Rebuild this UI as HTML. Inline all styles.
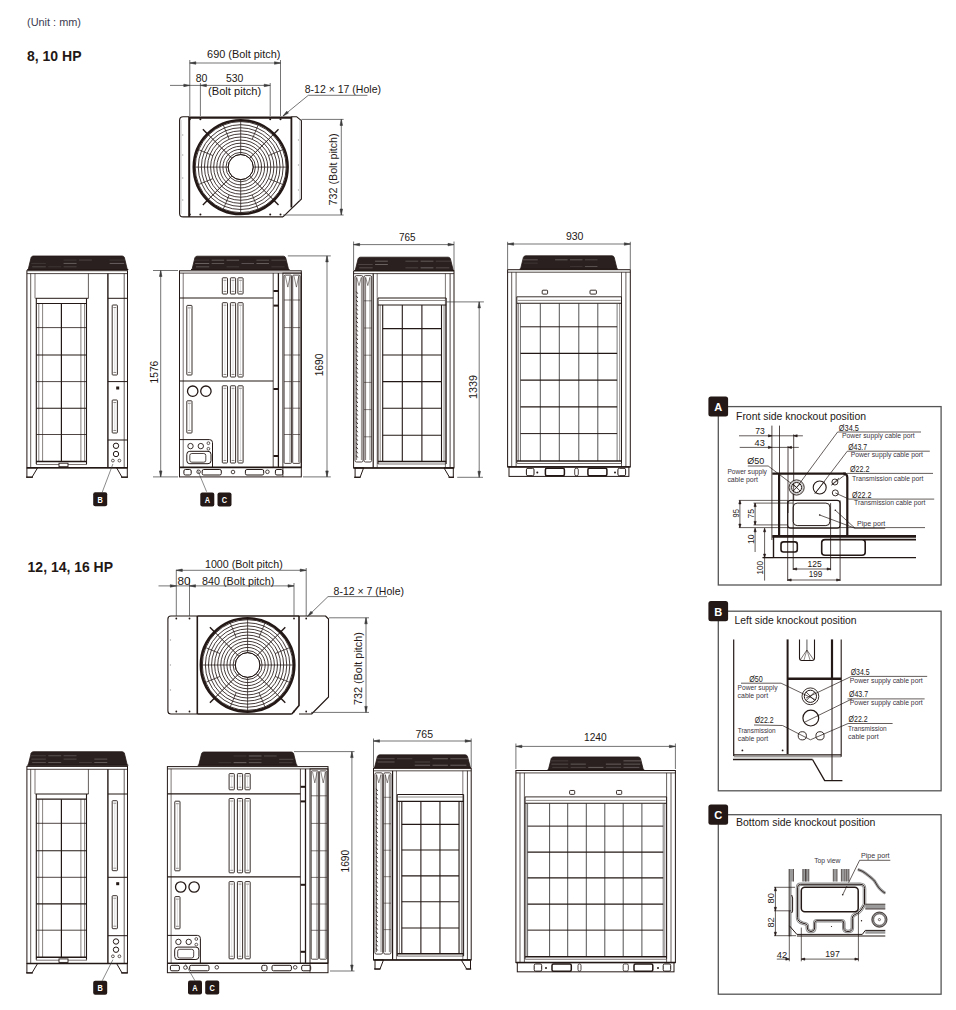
<!DOCTYPE html>
<html><head><meta charset="utf-8"><style>
html,body{margin:0;padding:0;background:#fff;}
body{width:956px;height:1010px;overflow:hidden;}
svg{display:block;font-family:"Liberation Sans",sans-serif;}
</style></head><body>
<svg width="956" height="1010" viewBox="0 0 956 1010">
<text x="27" y="26.2" font-size="10" text-anchor="start" fill="#3c3c50" font-weight="normal" textLength="54" lengthAdjust="spacingAndGlyphs">(Unit : mm)</text>
<text x="27" y="60.9" font-size="15" text-anchor="start" fill="#231815" font-weight="bold" textLength="54.5" lengthAdjust="spacingAndGlyphs">8, 10 HP</text>
<text x="27.6" y="572" font-size="15" text-anchor="start" fill="#231815" font-weight="bold" textLength="85.4" lengthAdjust="spacingAndGlyphs">12, 14, 16 HP</text>
<path d="M189.2,116.8 L183.1,116.8 Q179.6,116.8 179.6,120.3 L179.6,213.4 Q179.6,216.9 183.1,216.9 L283,216.9" stroke="#231815" stroke-width="1.1" fill="none" stroke-linejoin="round"/>
<line x1="189.2" y1="117.6" x2="291.9" y2="117.6" stroke="#231815" stroke-width="2.2" />
<line x1="189.2" y1="116.8" x2="189.2" y2="216.9" stroke="#231815" stroke-width="2" />
<line x1="291.4" y1="116.8" x2="291.4" y2="207.5" stroke="#231815" stroke-width="1.8" />
<polyline points="291.4,116.8 296.8,116.8 301.4,120.7 301.4,199 283,216.9" stroke="#231815" stroke-width="1.1" fill="none" stroke-linejoin="round" />
<circle cx="240.7" cy="167.1" r="14.7" stroke="#231815" stroke-width="0.85" fill="none"/>
<circle cx="240.7" cy="167.1" r="17.78" stroke="#231815" stroke-width="0.85" fill="none"/>
<circle cx="240.7" cy="167.1" r="20.86" stroke="#231815" stroke-width="0.85" fill="none"/>
<circle cx="240.7" cy="167.1" r="23.94" stroke="#231815" stroke-width="0.85" fill="none"/>
<circle cx="240.7" cy="167.1" r="27.02" stroke="#231815" stroke-width="0.85" fill="none"/>
<circle cx="240.7" cy="167.1" r="30.1" stroke="#231815" stroke-width="0.85" fill="none"/>
<circle cx="240.7" cy="167.1" r="33.18" stroke="#231815" stroke-width="0.85" fill="none"/>
<circle cx="240.7" cy="167.1" r="36.26" stroke="#231815" stroke-width="0.85" fill="none"/>
<circle cx="240.7" cy="167.1" r="39.34" stroke="#231815" stroke-width="0.85" fill="none"/>
<circle cx="240.7" cy="167.1" r="42.42" stroke="#231815" stroke-width="0.85" fill="none"/>
<circle cx="240.7" cy="167.1" r="45.5" stroke="#231815" stroke-width="0.85" fill="none"/>
<circle cx="240.7" cy="167.1" r="12.5" stroke="#231815" stroke-width="1" fill="none"/>
<circle cx="240.7" cy="167.1" r="46.9" stroke="#231815" stroke-width="2.6" fill="none"/>
<line x1="253.2" y1="167.1" x2="287.2" y2="167.1" stroke="#231815" stroke-width="0.75" />
<line x1="268.42" y1="178.58" x2="283.66" y2="184.89" stroke="#231815" stroke-width="0.75" />
<line x1="249.54" y1="175.94" x2="273.58" y2="199.98" stroke="#231815" stroke-width="1" />
<line x1="252.18" y1="194.82" x2="258.49" y2="210.06" stroke="#231815" stroke-width="0.75" />
<line x1="240.7" y1="179.6" x2="240.7" y2="213.6" stroke="#231815" stroke-width="0.75" />
<line x1="229.22" y1="194.82" x2="222.91" y2="210.06" stroke="#231815" stroke-width="0.75" />
<line x1="231.86" y1="175.94" x2="207.82" y2="199.98" stroke="#231815" stroke-width="1" />
<line x1="212.98" y1="178.58" x2="197.74" y2="184.89" stroke="#231815" stroke-width="0.75" />
<line x1="228.2" y1="167.1" x2="194.2" y2="167.1" stroke="#231815" stroke-width="0.75" />
<line x1="212.98" y1="155.62" x2="197.74" y2="149.31" stroke="#231815" stroke-width="0.75" />
<line x1="231.86" y1="158.26" x2="207.82" y2="134.22" stroke="#231815" stroke-width="1" />
<line x1="229.22" y1="139.38" x2="222.91" y2="124.14" stroke="#231815" stroke-width="0.75" />
<line x1="240.7" y1="154.6" x2="240.7" y2="120.6" stroke="#231815" stroke-width="0.75" />
<line x1="252.18" y1="139.38" x2="258.49" y2="124.14" stroke="#231815" stroke-width="0.75" />
<line x1="249.54" y1="158.26" x2="273.58" y2="134.22" stroke="#231815" stroke-width="1" />
<line x1="268.42" y1="155.62" x2="283.66" y2="149.31" stroke="#231815" stroke-width="0.75" />
<circle cx="240.7" cy="167.1" r="12" stroke="none" stroke-width="0" fill="#fff"/>
<circle cx="240.7" cy="167.1" r="12.5" stroke="#231815" stroke-width="1" fill="none"/>
<line x1="272.87" y1="199.27" x2="278.53" y2="204.93" stroke="#231815" stroke-width="1.4" />
<line x1="208.53" y1="199.27" x2="202.87" y2="204.93" stroke="#231815" stroke-width="1.4" />
<line x1="208.53" y1="134.93" x2="202.87" y2="129.27" stroke="#231815" stroke-width="1.4" />
<line x1="272.87" y1="134.93" x2="278.53" y2="129.27" stroke="#231815" stroke-width="1.4" />
<line x1="181.2" y1="119.8" x2="181.2" y2="213.9" stroke="#aaa" stroke-width="0.5" />
<line x1="299.8" y1="119.8" x2="299.8" y2="200.9" stroke="#aaa" stroke-width="0.5" />
<circle cx="182.8" cy="135" r="0.35" stroke="#888" stroke-width="0.6" fill="none"/>
<circle cx="182.8" cy="155" r="0.35" stroke="#888" stroke-width="0.6" fill="none"/>
<circle cx="182.8" cy="178" r="0.35" stroke="#888" stroke-width="0.6" fill="none"/>
<circle cx="182.8" cy="200" r="0.35" stroke="#888" stroke-width="0.6" fill="none"/>
<circle cx="298.4" cy="140" r="0.35" stroke="#888" stroke-width="0.6" fill="none"/>
<circle cx="298.4" cy="165" r="0.35" stroke="#888" stroke-width="0.6" fill="none"/>
<circle cx="298.4" cy="190" r="0.35" stroke="#888" stroke-width="0.6" fill="none"/>
<circle cx="200.4" cy="119.3" r="1" stroke="none" stroke-width="0" fill="#231815"/>
<circle cx="200.4" cy="214.4" r="1" stroke="none" stroke-width="0" fill="#231815"/>
<circle cx="270.2" cy="119.3" r="1" stroke="none" stroke-width="0" fill="#231815"/>
<circle cx="270.2" cy="214.4" r="1" stroke="none" stroke-width="0" fill="#231815"/>
<circle cx="189.8" cy="119.3" r="1" stroke="none" stroke-width="0" fill="#231815"/>
<circle cx="189.8" cy="214.4" r="1" stroke="none" stroke-width="0" fill="#231815"/>
<circle cx="280.5" cy="119.3" r="1" stroke="none" stroke-width="0" fill="#231815"/>
<circle cx="280.5" cy="214.4" r="1" stroke="none" stroke-width="0" fill="#231815"/>
<line x1="189.8" y1="60" x2="189.8" y2="116" stroke="#3a3a3a" stroke-width="0.7" />
<line x1="280.5" y1="60" x2="280.5" y2="116" stroke="#3a3a3a" stroke-width="0.7" />
<line x1="200.4" y1="83" x2="200.4" y2="116" stroke="#3a3a3a" stroke-width="0.7" />
<line x1="270.2" y1="83" x2="270.2" y2="116" stroke="#3a3a3a" stroke-width="0.7" />
<line x1="189.8" y1="63" x2="280.5" y2="63" stroke="#3a3a3a" stroke-width="0.7" />
<polygon points="195.8,61.75 189.8,63 195.8,64.25" stroke="#3a3a3a" stroke-width="0.6" fill="#3a3a3a" stroke-linejoin="round" />
<polygon points="274.5,64.25 280.5,63 274.5,61.75" stroke="#3a3a3a" stroke-width="0.6" fill="#3a3a3a" stroke-linejoin="round" />
<line x1="170" y1="85.4" x2="270.2" y2="85.4" stroke="#3a3a3a" stroke-width="0.7" />
<polygon points="183.8,86.65 189.8,85.4 183.8,84.15" stroke="#3a3a3a" stroke-width="0.6" fill="#3a3a3a" stroke-linejoin="round" />
<polygon points="206.4,84.15 200.4,85.4 206.4,86.65" stroke="#3a3a3a" stroke-width="0.6" fill="#3a3a3a" stroke-linejoin="round" />
<polygon points="264.2,86.65 270.2,85.4 264.2,84.15" stroke="#3a3a3a" stroke-width="0.6" fill="#3a3a3a" stroke-linejoin="round" />
<text x="207.1" y="57.7" font-size="10.3" text-anchor="start" fill="#231815" font-weight="normal" textLength="73.4" lengthAdjust="spacingAndGlyphs">690 (Bolt pitch)</text>
<text x="195.7" y="81.8" font-size="10.3" text-anchor="start" fill="#231815" font-weight="normal" textLength="11.7" lengthAdjust="spacingAndGlyphs">80</text>
<text x="225.9" y="81.7" font-size="10.3" text-anchor="start" fill="#231815" font-weight="normal" textLength="17.4" lengthAdjust="spacingAndGlyphs">530</text>
<text x="208" y="94.9" font-size="10.3" text-anchor="start" fill="#231815" font-weight="normal" textLength="53.2" lengthAdjust="spacingAndGlyphs">(Bolt pitch)</text>
<text x="304.7" y="92.8" font-size="10.3" text-anchor="start" fill="#231815" font-weight="normal" textLength="76.3" lengthAdjust="spacingAndGlyphs">8-12 × 17 (Hole)</text>
<polyline points="367.4,95.3 308.3,95.3 283,116" stroke="#3a3a3a" stroke-width="0.7" fill="none" stroke-linejoin="round" />
<polygon points="286.81,111.2 283,116 288.41,113.12" stroke="#3a3a3a" stroke-width="0.6" fill="#3a3a3a" stroke-linejoin="round" />
<line x1="301.4" y1="119.4" x2="343.6" y2="119.4" stroke="#3a3a3a" stroke-width="0.7" />
<line x1="283" y1="215" x2="343.6" y2="215" stroke="#3a3a3a" stroke-width="0.7" />
<line x1="341.3" y1="119.4" x2="341.3" y2="215" stroke="#3a3a3a" stroke-width="0.7" />
<polygon points="342.55,125.4 341.3,119.4 340.05,125.4" stroke="#3a3a3a" stroke-width="0.6" fill="#3a3a3a" stroke-linejoin="round" />
<polygon points="340.05,209 341.3,215 342.55,209" stroke="#3a3a3a" stroke-width="0.6" fill="#3a3a3a" stroke-linejoin="round" />
<text x="337.3" y="169.4" font-size="10.5" text-anchor="middle" fill="#231815" font-weight="normal" textLength="72.1" lengthAdjust="spacingAndGlyphs" transform="rotate(-90 337.3 169.4)">732 (Bolt pitch)</text>
<path d="M197.3,616 L170.9,616 Q167.9,616 167.9,619 L167.9,711 Q167.9,714 170.9,714 L197.3,714" stroke="#231815" stroke-width="1.1" fill="none" stroke-linejoin="round"/>
<line x1="197.3" y1="616" x2="299" y2="616" stroke="#231815" stroke-width="1.6" />
<line x1="197.3" y1="714" x2="291.8" y2="714" stroke="#231815" stroke-width="1.6" />
<line x1="197.3" y1="616" x2="197.3" y2="714" stroke="#231815" stroke-width="1.6" />
<polyline points="299,616 299,705.4 291.8,714" stroke="#231815" stroke-width="1.6" fill="none" stroke-linejoin="round" />
<polyline points="299,616 325.5,616 328.5,619 328.5,697 311.6,714 299,714" stroke="#231815" stroke-width="1.1" fill="none" stroke-linejoin="round" />
<circle cx="247.6" cy="665" r="14.5" stroke="#231815" stroke-width="0.85" fill="none"/>
<circle cx="247.6" cy="665" r="17.58" stroke="#231815" stroke-width="0.85" fill="none"/>
<circle cx="247.6" cy="665" r="20.66" stroke="#231815" stroke-width="0.85" fill="none"/>
<circle cx="247.6" cy="665" r="23.74" stroke="#231815" stroke-width="0.85" fill="none"/>
<circle cx="247.6" cy="665" r="26.82" stroke="#231815" stroke-width="0.85" fill="none"/>
<circle cx="247.6" cy="665" r="29.9" stroke="#231815" stroke-width="0.85" fill="none"/>
<circle cx="247.6" cy="665" r="32.98" stroke="#231815" stroke-width="0.85" fill="none"/>
<circle cx="247.6" cy="665" r="36.06" stroke="#231815" stroke-width="0.85" fill="none"/>
<circle cx="247.6" cy="665" r="39.14" stroke="#231815" stroke-width="0.85" fill="none"/>
<circle cx="247.6" cy="665" r="42.22" stroke="#231815" stroke-width="0.85" fill="none"/>
<circle cx="247.6" cy="665" r="45.3" stroke="#231815" stroke-width="0.85" fill="none"/>
<circle cx="247.6" cy="665" r="12.3" stroke="#231815" stroke-width="1" fill="none"/>
<circle cx="247.6" cy="665" r="46.7" stroke="#231815" stroke-width="2.6" fill="none"/>
<line x1="259.9" y1="665" x2="293.9" y2="665" stroke="#231815" stroke-width="0.75" />
<line x1="275.13" y1="676.4" x2="290.38" y2="682.72" stroke="#231815" stroke-width="0.75" />
<line x1="256.3" y1="673.7" x2="280.34" y2="697.74" stroke="#231815" stroke-width="1" />
<line x1="259" y1="692.53" x2="265.32" y2="707.78" stroke="#231815" stroke-width="0.75" />
<line x1="247.6" y1="677.3" x2="247.6" y2="711.3" stroke="#231815" stroke-width="0.75" />
<line x1="236.2" y1="692.53" x2="229.88" y2="707.78" stroke="#231815" stroke-width="0.75" />
<line x1="238.9" y1="673.7" x2="214.86" y2="697.74" stroke="#231815" stroke-width="1" />
<line x1="220.07" y1="676.4" x2="204.82" y2="682.72" stroke="#231815" stroke-width="0.75" />
<line x1="235.3" y1="665" x2="201.3" y2="665" stroke="#231815" stroke-width="0.75" />
<line x1="220.07" y1="653.6" x2="204.82" y2="647.28" stroke="#231815" stroke-width="0.75" />
<line x1="238.9" y1="656.3" x2="214.86" y2="632.26" stroke="#231815" stroke-width="1" />
<line x1="236.2" y1="637.47" x2="229.88" y2="622.22" stroke="#231815" stroke-width="0.75" />
<line x1="247.6" y1="652.7" x2="247.6" y2="618.7" stroke="#231815" stroke-width="0.75" />
<line x1="259" y1="637.47" x2="265.32" y2="622.22" stroke="#231815" stroke-width="0.75" />
<line x1="256.3" y1="656.3" x2="280.34" y2="632.26" stroke="#231815" stroke-width="1" />
<line x1="275.13" y1="653.6" x2="290.38" y2="647.28" stroke="#231815" stroke-width="0.75" />
<circle cx="247.6" cy="665" r="11.8" stroke="none" stroke-width="0" fill="#fff"/>
<circle cx="247.6" cy="665" r="12.3" stroke="#231815" stroke-width="1" fill="none"/>
<line x1="279.63" y1="697.03" x2="285.29" y2="702.69" stroke="#231815" stroke-width="1.4" />
<line x1="215.57" y1="697.03" x2="209.91" y2="702.69" stroke="#231815" stroke-width="1.4" />
<line x1="215.57" y1="632.97" x2="209.91" y2="627.31" stroke="#231815" stroke-width="1.4" />
<line x1="279.63" y1="632.97" x2="285.29" y2="627.31" stroke="#231815" stroke-width="1.4" />
<circle cx="170.4" cy="640" r="0.35" stroke="#888" stroke-width="0.6" fill="none"/>
<circle cx="170.4" cy="665" r="0.35" stroke="#888" stroke-width="0.6" fill="none"/>
<circle cx="170.4" cy="690" r="0.35" stroke="#888" stroke-width="0.6" fill="none"/>
<circle cx="176.3" cy="618.5" r="0.9" stroke="none" stroke-width="0" fill="#231815"/>
<circle cx="176.3" cy="711.5" r="0.9" stroke="none" stroke-width="0" fill="#231815"/>
<circle cx="189.5" cy="618.5" r="0.9" stroke="none" stroke-width="0" fill="#231815"/>
<circle cx="189.5" cy="711.5" r="0.9" stroke="none" stroke-width="0" fill="#231815"/>
<circle cx="294" cy="618.5" r="0.9" stroke="none" stroke-width="0" fill="#231815"/>
<circle cx="294" cy="711.5" r="0.9" stroke="none" stroke-width="0" fill="#231815"/>
<circle cx="306.2" cy="618.5" r="0.9" stroke="none" stroke-width="0" fill="#231815"/>
<circle cx="306.2" cy="711.5" r="0.9" stroke="none" stroke-width="0" fill="#231815"/>
<line x1="176.3" y1="569.8" x2="176.3" y2="616" stroke="#3a3a3a" stroke-width="0.7" />
<line x1="306.2" y1="568" x2="306.2" y2="616" stroke="#3a3a3a" stroke-width="0.7" />
<line x1="189.5" y1="578" x2="189.5" y2="616" stroke="#3a3a3a" stroke-width="0.7" />
<line x1="294" y1="583" x2="294" y2="616" stroke="#3a3a3a" stroke-width="0.7" />
<line x1="176.3" y1="570.3" x2="306.2" y2="570.3" stroke="#3a3a3a" stroke-width="0.7" />
<polygon points="182.3,569.05 176.3,570.3 182.3,571.55" stroke="#3a3a3a" stroke-width="0.6" fill="#3a3a3a" stroke-linejoin="round" />
<polygon points="300.2,571.55 306.2,570.3 300.2,569.05" stroke="#3a3a3a" stroke-width="0.6" fill="#3a3a3a" stroke-linejoin="round" />
<line x1="158.5" y1="585.9" x2="294" y2="585.9" stroke="#3a3a3a" stroke-width="0.7" />
<polygon points="170.3,587.15 176.3,585.9 170.3,584.65" stroke="#3a3a3a" stroke-width="0.6" fill="#3a3a3a" stroke-linejoin="round" />
<polygon points="195.5,584.65 189.5,585.9 195.5,587.15" stroke="#3a3a3a" stroke-width="0.6" fill="#3a3a3a" stroke-linejoin="round" />
<polygon points="288,587.15 294,585.9 288,584.65" stroke="#3a3a3a" stroke-width="0.6" fill="#3a3a3a" stroke-linejoin="round" />
<text x="205" y="568.4" font-size="10.3" text-anchor="start" fill="#231815" font-weight="normal" textLength="77.7" lengthAdjust="spacingAndGlyphs">1000 (Bolt pitch)</text>
<text x="177.4" y="584.5" font-size="10.3" text-anchor="start" fill="#231815" font-weight="normal" textLength="13" lengthAdjust="spacingAndGlyphs">80</text>
<text x="202" y="584.5" font-size="10.3" text-anchor="start" fill="#231815" font-weight="normal" textLength="72.3" lengthAdjust="spacingAndGlyphs">840 (Bolt pitch)</text>
<text x="333.6" y="594.6" font-size="10.3" text-anchor="start" fill="#231815" font-weight="normal" textLength="70.4" lengthAdjust="spacingAndGlyphs">8-12 × 7 (Hole)</text>
<polyline points="387,596.6 328,596.6 307.6,616.4" stroke="#3a3a3a" stroke-width="0.7" fill="none" stroke-linejoin="round" />
<polygon points="310.96,611.27 307.6,616.4 312.73,613.04" stroke="#3a3a3a" stroke-width="0.6" fill="#3a3a3a" stroke-linejoin="round" />
<line x1="329" y1="617.8" x2="369" y2="617.8" stroke="#3a3a3a" stroke-width="0.7" />
<line x1="311" y1="712.4" x2="369" y2="712.4" stroke="#3a3a3a" stroke-width="0.7" />
<line x1="366" y1="617.8" x2="366" y2="712.4" stroke="#3a3a3a" stroke-width="0.7" />
<polygon points="367.25,623.8 366,617.8 364.75,623.8" stroke="#3a3a3a" stroke-width="0.6" fill="#3a3a3a" stroke-linejoin="round" />
<polygon points="364.75,706.4 366,712.4 367.25,706.4" stroke="#3a3a3a" stroke-width="0.6" fill="#3a3a3a" stroke-linejoin="round" />
<text x="361.7" y="668.6" font-size="10.5" text-anchor="middle" fill="#231815" font-weight="normal" textLength="73" lengthAdjust="spacingAndGlyphs" transform="rotate(-90 361.7 668.6)">732 (Bolt pitch)</text>
<path d="M28.2,269.5 L31.1,257.6 Q31.7,256 33.3,256 L122.2,256 Q123.8,256 124.4,257.6 L127.3,269.5 Z" stroke="#231815" stroke-width="0.8" fill="#2a2020" stroke-linejoin="round"/>
<line x1="63.6" y1="260.05" x2="76.55" y2="260.05" stroke="#b0a8a8" stroke-width="0.7" stroke-opacity="0.24"/>
<line x1="78.95" y1="260.05" x2="91.9" y2="260.05" stroke="#b0a8a8" stroke-width="0.7" stroke-opacity="0.38"/>
<line x1="109.65" y1="260.05" x2="125.05" y2="260.05" stroke="#b0a8a8" stroke-width="0.7" stroke-opacity="0.22"/>
<line x1="31.32" y1="263.43" x2="45.85" y2="263.43" stroke="#b0a8a8" stroke-width="0.7" stroke-opacity="0.23"/>
<line x1="63.6" y1="263.43" x2="76.55" y2="263.43" stroke="#b0a8a8" stroke-width="0.7" stroke-opacity="0.61"/>
<line x1="109.65" y1="263.43" x2="124.17" y2="263.43" stroke="#b0a8a8" stroke-width="0.7" stroke-opacity="0.67"/>
<line x1="32.2" y1="266.8" x2="45.85" y2="266.8" stroke="#b0a8a8" stroke-width="0.7" stroke-opacity="0.40"/>
<line x1="48.25" y1="266.8" x2="61.2" y2="266.8" stroke="#b0a8a8" stroke-width="0.7" stroke-opacity="0.22"/>
<line x1="63.6" y1="266.8" x2="76.55" y2="266.8" stroke="#b0a8a8" stroke-width="0.7" stroke-opacity="0.34"/>
<line x1="27.2" y1="269.5" x2="128.3" y2="269.5" stroke="#231815" stroke-width="1" />
<rect x="26.9" y="270.7" width="100.6" height="197.1" rx="0" stroke="#231815" stroke-width="1" fill="none"/>
<line x1="26.9" y1="273.6" x2="127.5" y2="273.6" stroke="#231815" stroke-width="0.8" />
<line x1="30.7" y1="273.6" x2="30.7" y2="467.8" stroke="#231815" stroke-width="0.7" />
<line x1="35" y1="273.6" x2="35" y2="298.3" stroke="#231815" stroke-width="0.6" />
<line x1="88.4" y1="273.6" x2="88.4" y2="298.3" stroke="#231815" stroke-width="0.7" />
<line x1="124.2" y1="273.6" x2="124.2" y2="467.8" stroke="#231815" stroke-width="0.7" />
<line x1="107.9" y1="273.6" x2="107.9" y2="467.8" stroke="#231815" stroke-width="1.4" />
<line x1="35.5" y1="298.3" x2="88.4" y2="298.3" stroke="#231815" stroke-width="1" />
<line x1="36.5" y1="303.5" x2="87" y2="303.5" stroke="#231815" stroke-width="1.2" />
<line x1="36.3" y1="298.3" x2="36.3" y2="464" stroke="#231815" stroke-width="1.1" />
<line x1="86.5" y1="298.3" x2="86.5" y2="464" stroke="#231815" stroke-width="1.1" />
<line x1="38.8" y1="303.5" x2="38.8" y2="461.5" stroke="#231815" stroke-width="0.55" />
<line x1="42.6" y1="303.5" x2="42.6" y2="461.5" stroke="#231815" stroke-width="0.55" />
<line x1="80.9" y1="303.5" x2="80.9" y2="461.5" stroke="#231815" stroke-width="0.55" />
<line x1="84.6" y1="303.5" x2="84.6" y2="461.5" stroke="#231815" stroke-width="0.55" />
<line x1="61.4" y1="303.5" x2="61.4" y2="461.5" stroke="#231815" stroke-width="1.2" />
<line x1="36.3" y1="327.6" x2="86.5" y2="327.6" stroke="#231815" stroke-width="0.8" />
<line x1="36.3" y1="355" x2="86.5" y2="355" stroke="#231815" stroke-width="1.1" />
<line x1="36.3" y1="381.6" x2="86.5" y2="381.6" stroke="#231815" stroke-width="0.8" />
<line x1="36.3" y1="408.2" x2="86.5" y2="408.2" stroke="#231815" stroke-width="1.1" />
<line x1="36.3" y1="434.5" x2="86.5" y2="434.5" stroke="#231815" stroke-width="0.8" />
<line x1="36" y1="461.5" x2="87" y2="461.5" stroke="#231815" stroke-width="1.5" />
<line x1="36" y1="464.5" x2="87" y2="464.5" stroke="#231815" stroke-width="0.6" />
<rect x="59" y="463.2" width="9" height="3.5" rx="0" fill="#fff"/>
<rect x="59" y="463.2" width="9" height="3.5" rx="0" stroke="#231815" stroke-width="0.9" fill="none"/>
<line x1="26.9" y1="467.8" x2="127.5" y2="467.8" stroke="#231815" stroke-width="1.6" />
<line x1="107.9" y1="298.3" x2="127.5" y2="298.3" stroke="#231815" stroke-width="1" />
<line x1="107.9" y1="381.6" x2="127.5" y2="381.6" stroke="#231815" stroke-width="1" />
<line x1="107.9" y1="440" x2="127.5" y2="440" stroke="#231815" stroke-width="1" />
<rect x="112.2" y="305" width="5.2" height="70" rx="0.7" stroke="#231815" stroke-width="0.9" fill="none"/>
<line x1="113.4" y1="307.5" x2="116.2" y2="307.5" stroke="#231815" stroke-width="0.5" />
<line x1="113.4" y1="372.5" x2="116.2" y2="372.5" stroke="#231815" stroke-width="0.5" />
<line x1="114.8" y1="308" x2="114.8" y2="372" stroke="#999" stroke-width="0.35" />
<rect x="112.2" y="400" width="5.2" height="33" rx="0.7" stroke="#231815" stroke-width="0.9" fill="none"/>
<line x1="113.4" y1="402.5" x2="116.2" y2="402.5" stroke="#231815" stroke-width="0.5" />
<line x1="113.4" y1="430.5" x2="116.2" y2="430.5" stroke="#231815" stroke-width="0.5" />
<line x1="114.8" y1="403" x2="114.8" y2="430" stroke="#999" stroke-width="0.35" />
<rect x="116.2" y="386.5" width="3" height="3" rx="0" fill="#231815"/>
<circle cx="116" cy="445.8" r="2.7" stroke="#231815" stroke-width="1" fill="none"/>
<circle cx="116" cy="454" r="2.7" stroke="#231815" stroke-width="1" fill="none"/>
<circle cx="112.9" cy="460.6" r="1.4" stroke="#231815" stroke-width="0.7" fill="none"/>
<circle cx="119.4" cy="460.6" r="1.4" stroke="#231815" stroke-width="0.7" fill="none"/>
<polygon points="26.9,467.8 37.6,467.8 32,477.2 26.9,477.2" stroke="#231815" stroke-width="1" fill="none" stroke-linejoin="round" />
<line x1="26" y1="477.2" x2="33" y2="477.2" stroke="#231815" stroke-width="1.2" />
<polygon points="116.6,467.8 127.3,467.8 127.3,477.2 122,477.2" stroke="#231815" stroke-width="1" fill="none" stroke-linejoin="round" />
<line x1="121" y1="477.2" x2="128" y2="477.2" stroke="#231815" stroke-width="1.2" />
<line x1="112.9" y1="464" x2="102.2" y2="492.3" stroke="#3a3a3a" stroke-width="0.6" />
<rect x="93.2" y="492.3" width="14" height="14" rx="2" fill="#231815"/>
<text x="100.2" y="502.7" font-size="9" text-anchor="middle" fill="#ffffff" font-weight="bold" textLength="5.3" lengthAdjust="spacingAndGlyphs">B</text>
<path d="M28.2,765.2 L31.1,753.3 Q31.7,751.7 33.3,751.7 L122.2,751.7 Q123.8,751.7 124.4,753.3 L127.3,765.2 Z" stroke="#231815" stroke-width="0.8" fill="#2a2020" stroke-linejoin="round"/>
<line x1="30.45" y1="755.75" x2="45.85" y2="755.75" stroke="#b0a8a8" stroke-width="0.7" stroke-opacity="0.29"/>
<line x1="48.25" y1="755.75" x2="61.2" y2="755.75" stroke="#b0a8a8" stroke-width="0.7" stroke-opacity="0.52"/>
<line x1="63.6" y1="755.75" x2="76.55" y2="755.75" stroke="#b0a8a8" stroke-width="0.7" stroke-opacity="0.47"/>
<line x1="31.32" y1="759.12" x2="45.85" y2="759.12" stroke="#b0a8a8" stroke-width="0.7" stroke-opacity="0.41"/>
<line x1="63.6" y1="759.12" x2="76.55" y2="759.12" stroke="#b0a8a8" stroke-width="0.7" stroke-opacity="0.43"/>
<line x1="94.3" y1="759.12" x2="107.25" y2="759.12" stroke="#b0a8a8" stroke-width="0.7" stroke-opacity="0.55"/>
<line x1="32.2" y1="762.5" x2="45.85" y2="762.5" stroke="#b0a8a8" stroke-width="0.7" stroke-opacity="0.46"/>
<line x1="48.25" y1="762.5" x2="61.2" y2="762.5" stroke="#b0a8a8" stroke-width="0.7" stroke-opacity="0.56"/>
<line x1="78.95" y1="762.5" x2="91.9" y2="762.5" stroke="#b0a8a8" stroke-width="0.7" stroke-opacity="0.26"/>
<line x1="94.3" y1="762.5" x2="107.25" y2="762.5" stroke="#b0a8a8" stroke-width="0.7" stroke-opacity="0.58"/>
<line x1="27.2" y1="765.2" x2="128.3" y2="765.2" stroke="#231815" stroke-width="1" />
<rect x="26.9" y="766.4" width="100.6" height="197.1" rx="0" stroke="#231815" stroke-width="1" fill="none"/>
<line x1="26.9" y1="769.3" x2="127.5" y2="769.3" stroke="#231815" stroke-width="0.8" />
<line x1="30.7" y1="769.3" x2="30.7" y2="963.5" stroke="#231815" stroke-width="0.7" />
<line x1="35" y1="769.3" x2="35" y2="794" stroke="#231815" stroke-width="0.6" />
<line x1="88.4" y1="769.3" x2="88.4" y2="794" stroke="#231815" stroke-width="0.7" />
<line x1="124.2" y1="769.3" x2="124.2" y2="963.5" stroke="#231815" stroke-width="0.7" />
<line x1="107.9" y1="769.3" x2="107.9" y2="963.5" stroke="#231815" stroke-width="1.4" />
<line x1="35.5" y1="794" x2="88.4" y2="794" stroke="#231815" stroke-width="1" />
<line x1="36.5" y1="799.2" x2="87" y2="799.2" stroke="#231815" stroke-width="1.2" />
<line x1="36.3" y1="794" x2="36.3" y2="959.7" stroke="#231815" stroke-width="1.1" />
<line x1="86.5" y1="794" x2="86.5" y2="959.7" stroke="#231815" stroke-width="1.1" />
<line x1="38.8" y1="799.2" x2="38.8" y2="957.2" stroke="#231815" stroke-width="0.55" />
<line x1="42.6" y1="799.2" x2="42.6" y2="957.2" stroke="#231815" stroke-width="0.55" />
<line x1="80.9" y1="799.2" x2="80.9" y2="957.2" stroke="#231815" stroke-width="0.55" />
<line x1="84.6" y1="799.2" x2="84.6" y2="957.2" stroke="#231815" stroke-width="0.55" />
<line x1="61.4" y1="799.2" x2="61.4" y2="957.2" stroke="#231815" stroke-width="1.2" />
<line x1="36.3" y1="823.3" x2="86.5" y2="823.3" stroke="#231815" stroke-width="0.8" />
<line x1="36.3" y1="850.7" x2="86.5" y2="850.7" stroke="#231815" stroke-width="1.1" />
<line x1="36.3" y1="877.3" x2="86.5" y2="877.3" stroke="#231815" stroke-width="0.8" />
<line x1="36.3" y1="903.9" x2="86.5" y2="903.9" stroke="#231815" stroke-width="1.1" />
<line x1="36.3" y1="930.2" x2="86.5" y2="930.2" stroke="#231815" stroke-width="0.8" />
<line x1="36" y1="957.2" x2="87" y2="957.2" stroke="#231815" stroke-width="1.5" />
<line x1="36" y1="960.2" x2="87" y2="960.2" stroke="#231815" stroke-width="0.6" />
<rect x="59" y="958.9" width="9" height="3.5" rx="0" fill="#fff"/>
<rect x="59" y="958.9" width="9" height="3.5" rx="0" stroke="#231815" stroke-width="0.9" fill="none"/>
<line x1="26.9" y1="963.5" x2="127.5" y2="963.5" stroke="#231815" stroke-width="1.6" />
<line x1="107.9" y1="794" x2="127.5" y2="794" stroke="#231815" stroke-width="1" />
<line x1="107.9" y1="877.3" x2="127.5" y2="877.3" stroke="#231815" stroke-width="1" />
<line x1="107.9" y1="935.7" x2="127.5" y2="935.7" stroke="#231815" stroke-width="1" />
<rect x="112.2" y="800.7" width="5.2" height="70" rx="0.7" stroke="#231815" stroke-width="0.9" fill="none"/>
<line x1="113.4" y1="803.2" x2="116.2" y2="803.2" stroke="#231815" stroke-width="0.5" />
<line x1="113.4" y1="868.2" x2="116.2" y2="868.2" stroke="#231815" stroke-width="0.5" />
<line x1="114.8" y1="803.7" x2="114.8" y2="867.7" stroke="#999" stroke-width="0.35" />
<rect x="112.2" y="895.7" width="5.2" height="33" rx="0.7" stroke="#231815" stroke-width="0.9" fill="none"/>
<line x1="113.4" y1="898.2" x2="116.2" y2="898.2" stroke="#231815" stroke-width="0.5" />
<line x1="113.4" y1="926.2" x2="116.2" y2="926.2" stroke="#231815" stroke-width="0.5" />
<line x1="114.8" y1="898.7" x2="114.8" y2="925.7" stroke="#999" stroke-width="0.35" />
<rect x="116.2" y="882.2" width="3" height="3" rx="0" fill="#231815"/>
<circle cx="116" cy="941.5" r="2.7" stroke="#231815" stroke-width="1" fill="none"/>
<circle cx="116" cy="949.7" r="2.7" stroke="#231815" stroke-width="1" fill="none"/>
<circle cx="112.9" cy="956.3" r="1.4" stroke="#231815" stroke-width="0.7" fill="none"/>
<circle cx="119.4" cy="956.3" r="1.4" stroke="#231815" stroke-width="0.7" fill="none"/>
<polygon points="26.9,963.5 37.6,963.5 32,972.9 26.9,972.9" stroke="#231815" stroke-width="1" fill="none" stroke-linejoin="round" />
<line x1="26" y1="972.9" x2="33" y2="972.9" stroke="#231815" stroke-width="1.2" />
<polygon points="116.6,963.5 127.3,963.5 127.3,972.9 122,972.9" stroke="#231815" stroke-width="1" fill="none" stroke-linejoin="round" />
<line x1="121" y1="972.9" x2="128" y2="972.9" stroke="#231815" stroke-width="1.2" />
<line x1="112.9" y1="959.7" x2="102.2" y2="980.8" stroke="#3a3a3a" stroke-width="0.6" />
<rect x="93.2" y="980.8" width="14" height="14" rx="2" fill="#231815"/>
<text x="100.2" y="991.2" font-size="9" text-anchor="middle" fill="#ffffff" font-weight="bold" textLength="5.3" lengthAdjust="spacingAndGlyphs">B</text>
<path d="M192,269.5 L194.9,257.8 Q195.5,256.2 197.1,256.2 L283.5,256.2 Q285.1,256.2 285.7,257.8 L288.6,269.5 Z" stroke="#231815" stroke-width="0.8" fill="#2a2020" stroke-linejoin="round"/>
<line x1="194.25" y1="260.19" x2="209.23" y2="260.19" stroke="#b0a8a8" stroke-width="0.7" stroke-opacity="0.22"/>
<line x1="211.63" y1="260.19" x2="224.17" y2="260.19" stroke="#b0a8a8" stroke-width="0.7" stroke-opacity="0.58"/>
<line x1="226.57" y1="260.19" x2="239.1" y2="260.19" stroke="#b0a8a8" stroke-width="0.7" stroke-opacity="0.64"/>
<line x1="256.43" y1="260.19" x2="268.97" y2="260.19" stroke="#b0a8a8" stroke-width="0.7" stroke-opacity="0.50"/>
<line x1="271.37" y1="260.19" x2="286.35" y2="260.19" stroke="#b0a8a8" stroke-width="0.7" stroke-opacity="0.43"/>
<line x1="195.12" y1="263.51" x2="209.23" y2="263.51" stroke="#b0a8a8" stroke-width="0.7" stroke-opacity="0.67"/>
<line x1="211.63" y1="263.51" x2="224.17" y2="263.51" stroke="#b0a8a8" stroke-width="0.7" stroke-opacity="0.53"/>
<line x1="241.5" y1="263.51" x2="254.03" y2="263.51" stroke="#b0a8a8" stroke-width="0.7" stroke-opacity="0.52"/>
<line x1="256.43" y1="263.51" x2="268.97" y2="263.51" stroke="#b0a8a8" stroke-width="0.7" stroke-opacity="0.61"/>
<line x1="196" y1="266.84" x2="209.23" y2="266.84" stroke="#b0a8a8" stroke-width="0.7" stroke-opacity="0.53"/>
<line x1="226.57" y1="266.84" x2="239.1" y2="266.84" stroke="#b0a8a8" stroke-width="0.7" stroke-opacity="0.28"/>
<line x1="271.37" y1="266.84" x2="284.6" y2="266.84" stroke="#b0a8a8" stroke-width="0.7" stroke-opacity="0.26"/>
<line x1="191" y1="269.5" x2="289.6" y2="269.5" stroke="#231815" stroke-width="1" />
<rect x="179.5" y="270.8" width="121.8" height="206.1" rx="0" stroke="#231815" stroke-width="1" fill="none"/>
<line x1="179.5" y1="273.1" x2="301.3" y2="273.1" stroke="#231815" stroke-width="0.8" />
<line x1="183.2" y1="273.1" x2="183.2" y2="467.4" stroke="#231815" stroke-width="0.6" />
<line x1="179.5" y1="298" x2="273.2" y2="298" stroke="#231815" stroke-width="1.2" />
<line x1="179.5" y1="381" x2="273.2" y2="381" stroke="#231815" stroke-width="1.2" />
<line x1="273.2" y1="273.1" x2="273.2" y2="467.4" stroke="#231815" stroke-width="0.8" />
<line x1="278.4" y1="273.1" x2="278.4" y2="467.4" stroke="#231815" stroke-width="1.3" />
<rect x="273.5" y="290" width="4.6" height="2" rx="0" fill="#231815"/>
<rect x="273.5" y="304.6" width="4.6" height="2" rx="0" fill="#231815"/>
<rect x="273.5" y="388" width="4.6" height="2" rx="0" fill="#231815"/>
<rect x="273.5" y="455" width="4.6" height="2" rx="0" fill="#231815"/>
<rect x="282.9" y="273.1" width="18.4" height="194.3" rx="0" stroke="#231815" stroke-width="0.9" fill="none"/>
<rect x="284.1" y="275.1" width="7.4" height="188.3" rx="1" stroke="#231815" stroke-width="0.8" fill="none"/>
<line x1="290" y1="276.1" x2="290" y2="462.4" stroke="#231815" stroke-width="0.5" />
<polyline points="285.4,276.1 287.8,287.1 290.2,276.1" stroke="#231815" stroke-width="0.5" fill="none" stroke-linejoin="round" />
<line x1="284.1" y1="300" x2="291.5" y2="300" stroke="#231815" stroke-width="0.6" />
<line x1="284.1" y1="327.6" x2="291.5" y2="327.6" stroke="#231815" stroke-width="0.6" />
<line x1="284.1" y1="355" x2="291.5" y2="355" stroke="#231815" stroke-width="0.6" />
<line x1="284.1" y1="381.6" x2="291.5" y2="381.6" stroke="#231815" stroke-width="0.6" />
<line x1="284.1" y1="408.2" x2="291.5" y2="408.2" stroke="#231815" stroke-width="0.6" />
<line x1="284.1" y1="434.5" x2="291.5" y2="434.5" stroke="#231815" stroke-width="0.6" />
<rect x="292.7" y="275.1" width="7.4" height="188.3" rx="1" stroke="#231815" stroke-width="0.8" fill="none"/>
<line x1="298.6" y1="276.1" x2="298.6" y2="462.4" stroke="#231815" stroke-width="0.5" />
<polyline points="294,276.1 296.4,287.1 298.8,276.1" stroke="#231815" stroke-width="0.5" fill="none" stroke-linejoin="round" />
<line x1="292.7" y1="300" x2="300.1" y2="300" stroke="#231815" stroke-width="0.6" />
<line x1="292.7" y1="327.6" x2="300.1" y2="327.6" stroke="#231815" stroke-width="0.6" />
<line x1="292.7" y1="355" x2="300.1" y2="355" stroke="#231815" stroke-width="0.6" />
<line x1="292.7" y1="381.6" x2="300.1" y2="381.6" stroke="#231815" stroke-width="0.6" />
<line x1="292.7" y1="408.2" x2="300.1" y2="408.2" stroke="#231815" stroke-width="0.6" />
<line x1="292.7" y1="434.5" x2="300.1" y2="434.5" stroke="#231815" stroke-width="0.6" />
<rect x="222.3" y="277.8" width="5.2" height="16.2" rx="0.7" stroke="#231815" stroke-width="0.9" fill="none"/>
<line x1="223.5" y1="280.3" x2="226.3" y2="280.3" stroke="#231815" stroke-width="0.5" />
<line x1="223.5" y1="291.5" x2="226.3" y2="291.5" stroke="#231815" stroke-width="0.5" />
<line x1="224.9" y1="280.8" x2="224.9" y2="291" stroke="#999" stroke-width="0.35" />
<rect x="222.3" y="302.7" width="5.2" height="74.3" rx="0.7" stroke="#231815" stroke-width="0.9" fill="none"/>
<line x1="223.5" y1="305.2" x2="226.3" y2="305.2" stroke="#231815" stroke-width="0.5" />
<line x1="223.5" y1="374.5" x2="226.3" y2="374.5" stroke="#231815" stroke-width="0.5" />
<line x1="224.9" y1="305.7" x2="224.9" y2="374" stroke="#999" stroke-width="0.35" />
<rect x="222.3" y="385.8" width="5.2" height="77.2" rx="0.7" stroke="#231815" stroke-width="0.9" fill="none"/>
<line x1="223.5" y1="388.3" x2="226.3" y2="388.3" stroke="#231815" stroke-width="0.5" />
<line x1="223.5" y1="460.5" x2="226.3" y2="460.5" stroke="#231815" stroke-width="0.5" />
<line x1="224.9" y1="388.8" x2="224.9" y2="460" stroke="#999" stroke-width="0.35" />
<rect x="230.4" y="277.8" width="5.2" height="16.2" rx="0.7" stroke="#231815" stroke-width="0.9" fill="none"/>
<line x1="231.6" y1="280.3" x2="234.4" y2="280.3" stroke="#231815" stroke-width="0.5" />
<line x1="231.6" y1="291.5" x2="234.4" y2="291.5" stroke="#231815" stroke-width="0.5" />
<line x1="233" y1="280.8" x2="233" y2="291" stroke="#999" stroke-width="0.35" />
<rect x="230.4" y="302.7" width="5.2" height="74.3" rx="0.7" stroke="#231815" stroke-width="0.9" fill="none"/>
<line x1="231.6" y1="305.2" x2="234.4" y2="305.2" stroke="#231815" stroke-width="0.5" />
<line x1="231.6" y1="374.5" x2="234.4" y2="374.5" stroke="#231815" stroke-width="0.5" />
<line x1="233" y1="305.7" x2="233" y2="374" stroke="#999" stroke-width="0.35" />
<rect x="230.4" y="385.8" width="5.2" height="77.2" rx="0.7" stroke="#231815" stroke-width="0.9" fill="none"/>
<line x1="231.6" y1="388.3" x2="234.4" y2="388.3" stroke="#231815" stroke-width="0.5" />
<line x1="231.6" y1="460.5" x2="234.4" y2="460.5" stroke="#231815" stroke-width="0.5" />
<line x1="233" y1="388.8" x2="233" y2="460" stroke="#999" stroke-width="0.35" />
<rect x="237.9" y="277.8" width="5.2" height="16.2" rx="0.7" stroke="#231815" stroke-width="0.9" fill="none"/>
<line x1="239.1" y1="280.3" x2="241.9" y2="280.3" stroke="#231815" stroke-width="0.5" />
<line x1="239.1" y1="291.5" x2="241.9" y2="291.5" stroke="#231815" stroke-width="0.5" />
<line x1="240.5" y1="280.8" x2="240.5" y2="291" stroke="#999" stroke-width="0.35" />
<rect x="237.9" y="302.7" width="5.2" height="74.3" rx="0.7" stroke="#231815" stroke-width="0.9" fill="none"/>
<line x1="239.1" y1="305.2" x2="241.9" y2="305.2" stroke="#231815" stroke-width="0.5" />
<line x1="239.1" y1="374.5" x2="241.9" y2="374.5" stroke="#231815" stroke-width="0.5" />
<line x1="240.5" y1="305.7" x2="240.5" y2="374" stroke="#999" stroke-width="0.35" />
<rect x="237.9" y="385.8" width="5.2" height="77.2" rx="0.7" stroke="#231815" stroke-width="0.9" fill="none"/>
<line x1="239.1" y1="388.3" x2="241.9" y2="388.3" stroke="#231815" stroke-width="0.5" />
<line x1="239.1" y1="460.5" x2="241.9" y2="460.5" stroke="#231815" stroke-width="0.5" />
<line x1="240.5" y1="388.8" x2="240.5" y2="460" stroke="#999" stroke-width="0.35" />
<rect x="186.8" y="305.4" width="5.2" height="69.6" rx="0.7" stroke="#231815" stroke-width="0.9" fill="none"/>
<line x1="188" y1="307.9" x2="190.8" y2="307.9" stroke="#231815" stroke-width="0.5" />
<line x1="188" y1="372.5" x2="190.8" y2="372.5" stroke="#231815" stroke-width="0.5" />
<line x1="189.4" y1="308.4" x2="189.4" y2="372" stroke="#999" stroke-width="0.35" />
<rect x="186.8" y="400.8" width="5.2" height="32.2" rx="0.7" stroke="#231815" stroke-width="0.9" fill="none"/>
<line x1="188" y1="403.3" x2="190.8" y2="403.3" stroke="#231815" stroke-width="0.5" />
<line x1="188" y1="430.5" x2="190.8" y2="430.5" stroke="#231815" stroke-width="0.5" />
<line x1="189.4" y1="403.8" x2="189.4" y2="430" stroke="#999" stroke-width="0.35" />
<circle cx="192.7" cy="391.2" r="5.2" stroke="#231815" stroke-width="1.3" fill="none"/>
<circle cx="205.9" cy="391.2" r="5.2" stroke="#231815" stroke-width="1.3" fill="none"/>
<path d="M179.5,439.6 L209.5,439.6 Q212.5,439.6 212.5,442.6 L212.5,467.2" stroke="#231815" stroke-width="1" fill="none" stroke-linejoin="round"/>
<circle cx="190.5" cy="446.1" r="2.7" stroke="#231815" stroke-width="0.9" fill="none"/>
<circle cx="200.8" cy="446.1" r="2.7" stroke="#231815" stroke-width="0.9" fill="none"/>
<circle cx="208.4" cy="443.2" r="1.4" stroke="#231815" stroke-width="0.7" fill="none"/>
<circle cx="208.4" cy="448.8" r="1.4" stroke="#231815" stroke-width="0.7" fill="none"/>
<rect x="186.8" y="451.3" width="24.2" height="12.4" rx="3" stroke="#231815" stroke-width="1" fill="none"/>
<rect x="189.8" y="453.5" width="16" height="8.7" rx="2" stroke="#231815" stroke-width="0.8" fill="none"/>
<line x1="179.5" y1="467.4" x2="301.3" y2="467.4" stroke="#231815" stroke-width="1.6" />
<line x1="282.9" y1="467.4" x2="282.9" y2="476.9" stroke="#231815" stroke-width="0.8" />
<rect x="183.9" y="469.5" width="7.3" height="5.5" rx="1.5" stroke="#231815" stroke-width="1" fill="none"/>
<rect x="202.2" y="469.5" width="19.1" height="5.5" rx="1.5" stroke="#231815" stroke-width="1" fill="none"/>
<rect x="245.4" y="469.5" width="18.3" height="5.5" rx="1.5" stroke="#231815" stroke-width="1" fill="none"/>
<rect x="275.4" y="469.5" width="7.4" height="5.5" rx="1.5" stroke="#231815" stroke-width="1" fill="none"/>
<circle cx="198.6" cy="471.8" r="1.8" stroke="#231815" stroke-width="0.8" fill="none"/>
<circle cx="233" cy="472" r="1.8" stroke="#231815" stroke-width="0.8" fill="none"/>
<circle cx="267.4" cy="471.8" r="1.8" stroke="#231815" stroke-width="0.8" fill="none"/>
<line x1="153" y1="270.5" x2="178" y2="270.5" stroke="#3a3a3a" stroke-width="0.7" />
<line x1="153" y1="476.9" x2="178" y2="476.9" stroke="#3a3a3a" stroke-width="0.7" />
<line x1="160.7" y1="270.5" x2="160.7" y2="476.9" stroke="#3a3a3a" stroke-width="0.7" />
<polygon points="161.95,276.5 160.7,270.5 159.45,276.5" stroke="#3a3a3a" stroke-width="0.6" fill="#3a3a3a" stroke-linejoin="round" />
<polygon points="159.45,470.9 160.7,476.9 161.95,470.9" stroke="#3a3a3a" stroke-width="0.6" fill="#3a3a3a" stroke-linejoin="round" />
<text x="158.2" y="372.05" font-size="11.3" text-anchor="middle" fill="#231815" font-weight="normal" textLength="22.7" lengthAdjust="spacingAndGlyphs" transform="rotate(-90 158.2 372.05)">1576</text>
<line x1="287.8" y1="255.9" x2="330.8" y2="255.9" stroke="#3a3a3a" stroke-width="0.7" />
<line x1="303" y1="476.9" x2="330.8" y2="476.9" stroke="#3a3a3a" stroke-width="0.7" />
<line x1="327" y1="255.9" x2="327" y2="476.9" stroke="#3a3a3a" stroke-width="0.7" />
<polygon points="328.25,261.9 327,255.9 325.75,261.9" stroke="#3a3a3a" stroke-width="0.6" fill="#3a3a3a" stroke-linejoin="round" />
<polygon points="325.75,470.9 327,476.9 328.25,470.9" stroke="#3a3a3a" stroke-width="0.6" fill="#3a3a3a" stroke-linejoin="round" />
<text x="323.3" y="364.9" font-size="11.3" text-anchor="middle" fill="#231815" font-weight="normal" textLength="22.9" lengthAdjust="spacingAndGlyphs" transform="rotate(-90 323.3 364.9)">1690</text>
<line x1="197.4" y1="469.6" x2="206.6" y2="491.7" stroke="#3a3a3a" stroke-width="0.6" />
<rect x="200.3" y="492.5" width="14" height="14" rx="2" fill="#231815"/>
<text x="207.3" y="502.9" font-size="9" text-anchor="middle" fill="#ffffff" font-weight="bold" textLength="5.3" lengthAdjust="spacingAndGlyphs">A</text>
<rect x="217.5" y="492.5" width="14" height="14" rx="2" fill="#231815"/>
<text x="224.5" y="502.9" font-size="9" text-anchor="middle" fill="#ffffff" font-weight="bold" textLength="5.3" lengthAdjust="spacingAndGlyphs">C</text>
<path d="M355.2,270.5 L358.1,258.8 Q358.7,257.2 360.3,257.2 L448.2,257.2 Q449.8,257.2 450.4,258.8 L453.3,270.5 Z" stroke="#231815" stroke-width="0.8" fill="#2a2020" stroke-linejoin="round"/>
<line x1="375.08" y1="261.19" x2="387.87" y2="261.19" stroke="#b0a8a8" stroke-width="0.7" stroke-opacity="0.64"/>
<line x1="405.45" y1="261.19" x2="418.23" y2="261.19" stroke="#b0a8a8" stroke-width="0.7" stroke-opacity="0.47"/>
<line x1="420.63" y1="261.19" x2="433.42" y2="261.19" stroke="#b0a8a8" stroke-width="0.7" stroke-opacity="0.61"/>
<line x1="435.82" y1="261.19" x2="451.05" y2="261.19" stroke="#b0a8a8" stroke-width="0.7" stroke-opacity="0.34"/>
<line x1="358.32" y1="264.51" x2="372.68" y2="264.51" stroke="#b0a8a8" stroke-width="0.7" stroke-opacity="0.38"/>
<line x1="375.08" y1="264.51" x2="387.87" y2="264.51" stroke="#b0a8a8" stroke-width="0.7" stroke-opacity="0.68"/>
<line x1="359.2" y1="267.84" x2="372.68" y2="267.84" stroke="#b0a8a8" stroke-width="0.7" stroke-opacity="0.49"/>
<line x1="405.45" y1="267.84" x2="418.23" y2="267.84" stroke="#b0a8a8" stroke-width="0.7" stroke-opacity="0.38"/>
<line x1="420.63" y1="267.84" x2="433.42" y2="267.84" stroke="#b0a8a8" stroke-width="0.7" stroke-opacity="0.68"/>
<line x1="435.82" y1="267.84" x2="449.3" y2="267.84" stroke="#b0a8a8" stroke-width="0.7" stroke-opacity="0.46"/>
<line x1="354.2" y1="270.5" x2="454.3" y2="270.5" stroke="#231815" stroke-width="1" />
<rect x="353.6" y="271" width="100.4" height="196.9" rx="0" stroke="#231815" stroke-width="1" fill="none"/>
<line x1="353.6" y1="273.6" x2="454" y2="273.6" stroke="#231815" stroke-width="0.8" />
<rect x="355" y="275.6" width="8" height="186.4" rx="1.5" stroke="#231815" stroke-width="0.8" fill="none"/>
<line x1="356.6" y1="277.6" x2="356.6" y2="460" stroke="#231815" stroke-width="0.6" />
<line x1="361.4" y1="277.6" x2="361.4" y2="460" stroke="#231815" stroke-width="0.5" />
<polyline points="356.6,277.1 359,285.6 361.4,277.1" stroke="#231815" stroke-width="0.5" fill="none" stroke-linejoin="round" />
<rect x="364" y="275.6" width="7.6" height="186.4" rx="1.5" stroke="#231815" stroke-width="0.8" fill="none"/>
<line x1="365.6" y1="277.6" x2="365.6" y2="460" stroke="#231815" stroke-width="0.6" />
<line x1="370" y1="277.6" x2="370" y2="460" stroke="#231815" stroke-width="0.5" />
<polyline points="365.6,277.1 367.8,285.6 370,277.1" stroke="#231815" stroke-width="0.5" fill="none" stroke-linejoin="round" />
<line x1="356.2" y1="291.6" x2="357.8" y2="293.7" stroke="#231815" stroke-width="0.9" />
<line x1="356.2" y1="295.8" x2="357.8" y2="297.9" stroke="#231815" stroke-width="0.9" />
<line x1="356.2" y1="300" x2="357.8" y2="302.1" stroke="#231815" stroke-width="0.9" />
<line x1="356.2" y1="304.2" x2="357.8" y2="306.3" stroke="#231815" stroke-width="0.9" />
<line x1="356.2" y1="308.4" x2="357.8" y2="310.5" stroke="#231815" stroke-width="0.9" />
<line x1="356.2" y1="312.6" x2="357.8" y2="314.7" stroke="#231815" stroke-width="0.9" />
<line x1="356.2" y1="316.8" x2="357.8" y2="318.9" stroke="#231815" stroke-width="0.9" />
<line x1="356.2" y1="321" x2="357.8" y2="323.1" stroke="#231815" stroke-width="0.9" />
<line x1="356.2" y1="325.2" x2="357.8" y2="327.3" stroke="#231815" stroke-width="0.9" />
<line x1="356.2" y1="329.4" x2="357.8" y2="331.5" stroke="#231815" stroke-width="0.9" />
<line x1="356.2" y1="333.6" x2="357.8" y2="335.7" stroke="#231815" stroke-width="0.9" />
<line x1="356.2" y1="337.8" x2="357.8" y2="339.9" stroke="#231815" stroke-width="0.9" />
<line x1="356.2" y1="342" x2="357.8" y2="344.1" stroke="#231815" stroke-width="0.9" />
<line x1="356.2" y1="346.2" x2="357.8" y2="348.3" stroke="#231815" stroke-width="0.9" />
<line x1="356.2" y1="350.4" x2="357.8" y2="352.5" stroke="#231815" stroke-width="0.9" />
<line x1="356.2" y1="354.6" x2="357.8" y2="356.7" stroke="#231815" stroke-width="0.9" />
<line x1="356.2" y1="358.8" x2="357.8" y2="360.9" stroke="#231815" stroke-width="0.9" />
<line x1="356.2" y1="363" x2="357.8" y2="365.1" stroke="#231815" stroke-width="0.9" />
<line x1="356.2" y1="367.2" x2="357.8" y2="369.3" stroke="#231815" stroke-width="0.9" />
<line x1="356.2" y1="371.4" x2="357.8" y2="373.5" stroke="#231815" stroke-width="0.9" />
<line x1="356.2" y1="375.6" x2="357.8" y2="377.7" stroke="#231815" stroke-width="0.9" />
<line x1="356.2" y1="379.8" x2="357.8" y2="381.9" stroke="#231815" stroke-width="0.9" />
<line x1="356.2" y1="384" x2="357.8" y2="386.1" stroke="#231815" stroke-width="0.9" />
<line x1="356.2" y1="388.2" x2="357.8" y2="390.3" stroke="#231815" stroke-width="0.9" />
<line x1="356.2" y1="392.4" x2="357.8" y2="394.5" stroke="#231815" stroke-width="0.9" />
<line x1="356.2" y1="396.6" x2="357.8" y2="398.7" stroke="#231815" stroke-width="0.9" />
<line x1="356.2" y1="400.8" x2="357.8" y2="402.9" stroke="#231815" stroke-width="0.9" />
<line x1="356.2" y1="405" x2="357.8" y2="407.1" stroke="#231815" stroke-width="0.9" />
<line x1="356.2" y1="409.2" x2="357.8" y2="411.3" stroke="#231815" stroke-width="0.9" />
<line x1="356.2" y1="413.4" x2="357.8" y2="415.5" stroke="#231815" stroke-width="0.9" />
<line x1="356.2" y1="417.6" x2="357.8" y2="419.7" stroke="#231815" stroke-width="0.9" />
<line x1="356.2" y1="421.8" x2="357.8" y2="423.9" stroke="#231815" stroke-width="0.9" />
<line x1="356.2" y1="426" x2="357.8" y2="428.1" stroke="#231815" stroke-width="0.9" />
<line x1="356.2" y1="430.2" x2="357.8" y2="432.3" stroke="#231815" stroke-width="0.9" />
<line x1="356.2" y1="434.4" x2="357.8" y2="436.5" stroke="#231815" stroke-width="0.9" />
<line x1="356.2" y1="438.6" x2="357.8" y2="440.7" stroke="#231815" stroke-width="0.9" />
<line x1="356.2" y1="442.8" x2="357.8" y2="444.9" stroke="#231815" stroke-width="0.9" />
<line x1="356.2" y1="447" x2="357.8" y2="449.1" stroke="#231815" stroke-width="0.9" />
<line x1="356.2" y1="451.2" x2="357.8" y2="453.3" stroke="#231815" stroke-width="0.9" />
<line x1="356.2" y1="455.4" x2="357.8" y2="457.5" stroke="#231815" stroke-width="0.9" />
<line x1="364" y1="300.8" x2="371.6" y2="300.8" stroke="#231815" stroke-width="0.5" />
<line x1="364" y1="328" x2="371.6" y2="328" stroke="#231815" stroke-width="0.5" />
<line x1="364" y1="355.2" x2="371.6" y2="355.2" stroke="#231815" stroke-width="0.5" />
<line x1="364" y1="382.4" x2="371.6" y2="382.4" stroke="#231815" stroke-width="0.5" />
<line x1="364" y1="409.6" x2="371.6" y2="409.6" stroke="#231815" stroke-width="0.5" />
<line x1="364" y1="436.8" x2="371.6" y2="436.8" stroke="#231815" stroke-width="0.5" />
<line x1="373.2" y1="273.6" x2="373.2" y2="467.9" stroke="#231815" stroke-width="1.2" />
<line x1="377.2" y1="273.6" x2="377.2" y2="467.9" stroke="#231815" stroke-width="0.6" />
<line x1="445.4" y1="273.6" x2="445.4" y2="467.9" stroke="#231815" stroke-width="0.6" />
<line x1="450.1" y1="273.6" x2="450.1" y2="467.9" stroke="#231815" stroke-width="0.8" />
<line x1="378" y1="298" x2="446.2" y2="298" stroke="#231815" stroke-width="1.1" />
<line x1="379" y1="300.5" x2="445.2" y2="300.5" stroke="#231815" stroke-width="0.5" />
<line x1="378" y1="305" x2="446.2" y2="305" stroke="#231815" stroke-width="1.1" />
<line x1="378" y1="298" x2="378" y2="464" stroke="#231815" stroke-width="1" />
<line x1="446.2" y1="298" x2="446.2" y2="464" stroke="#231815" stroke-width="1" />
<line x1="382.7" y1="305" x2="382.7" y2="461.6" stroke="#231815" stroke-width="1.1" />
<line x1="441.5" y1="305" x2="441.5" y2="461.6" stroke="#231815" stroke-width="1.1" />
<line x1="380.2" y1="305" x2="380.2" y2="461.6" stroke="#231815" stroke-width="0.5" />
<line x1="444" y1="305" x2="444" y2="461.6" stroke="#231815" stroke-width="0.5" />
<line x1="402.3" y1="305" x2="402.3" y2="461.6" stroke="#231815" stroke-width="1.1" />
<line x1="421.9" y1="305" x2="421.9" y2="461.6" stroke="#231815" stroke-width="1.1" />
<line x1="382.7" y1="328.6" x2="441.5" y2="328.6" stroke="#231815" stroke-width="1.1" />
<line x1="382.7" y1="355" x2="441.5" y2="355" stroke="#231815" stroke-width="1.1" />
<line x1="382.7" y1="381.6" x2="441.5" y2="381.6" stroke="#231815" stroke-width="1.1" />
<line x1="382.7" y1="408.2" x2="441.5" y2="408.2" stroke="#231815" stroke-width="1.1" />
<line x1="382.7" y1="435.2" x2="441.5" y2="435.2" stroke="#231815" stroke-width="1.1" />
<line x1="378" y1="461.6" x2="446.2" y2="461.6" stroke="#231815" stroke-width="1.5" />
<line x1="378" y1="464" x2="446.2" y2="464" stroke="#231815" stroke-width="0.6" />
<line x1="353.6" y1="467.9" x2="454" y2="467.9" stroke="#231815" stroke-width="1.5" />
<polygon points="355.1,467.9 363.6,467.9 360.1,477.3 355.1,477.3" stroke="#231815" stroke-width="1" fill="none" stroke-linejoin="round" />
<line x1="354.1" y1="477.3" x2="360.6" y2="477.3" stroke="#231815" stroke-width="1.2" />
<polygon points="444,467.9 453.3,467.9 453.3,477.3 449.5,477.3" stroke="#231815" stroke-width="1" fill="none" stroke-linejoin="round" />
<line x1="448.5" y1="477.3" x2="454" y2="477.3" stroke="#231815" stroke-width="1.2" />
<line x1="353.6" y1="241.5" x2="353.6" y2="270" stroke="#3a3a3a" stroke-width="0.7" />
<line x1="454" y1="241.5" x2="454" y2="270" stroke="#3a3a3a" stroke-width="0.7" />
<line x1="353.6" y1="244.6" x2="454" y2="244.6" stroke="#3a3a3a" stroke-width="0.7" />
<polygon points="359.6,243.35 353.6,244.6 359.6,245.85" stroke="#3a3a3a" stroke-width="0.6" fill="#3a3a3a" stroke-linejoin="round" />
<polygon points="448,245.85 454,244.6 448,243.35" stroke="#3a3a3a" stroke-width="0.6" fill="#3a3a3a" stroke-linejoin="round" />
<text x="399" y="240.7" font-size="11" text-anchor="start" fill="#231815" font-weight="normal" textLength="16.6" lengthAdjust="spacingAndGlyphs">765</text>
<line x1="446.2" y1="301.9" x2="483.9" y2="301.9" stroke="#3a3a3a" stroke-width="0.7" />
<line x1="457.2" y1="477.3" x2="483" y2="477.3" stroke="#3a3a3a" stroke-width="0.7" />
<line x1="479.2" y1="301.9" x2="479.2" y2="477.3" stroke="#3a3a3a" stroke-width="0.7" />
<polygon points="480.45,307.9 479.2,301.9 477.95,307.9" stroke="#3a3a3a" stroke-width="0.6" fill="#3a3a3a" stroke-linejoin="round" />
<polygon points="477.95,471.3 479.2,477.3 480.45,471.3" stroke="#3a3a3a" stroke-width="0.6" fill="#3a3a3a" stroke-linejoin="round" />
<text x="477" y="387" font-size="11.3" text-anchor="middle" fill="#231815" font-weight="normal" textLength="24" lengthAdjust="spacingAndGlyphs" transform="rotate(-90 477 387)">1339</text>
<path d="M520.5,269.2 L523.4,257.4 Q524,255.8 525.6,255.8 L612,255.8 Q613.6,255.8 614.2,257.4 L617.1,269.2 Z" stroke="#231815" stroke-width="0.8" fill="#2a2020" stroke-linejoin="round"/>
<line x1="522.75" y1="259.82" x2="537.73" y2="259.82" stroke="#b0a8a8" stroke-width="0.7" stroke-opacity="0.54"/>
<line x1="555.07" y1="259.82" x2="567.6" y2="259.82" stroke="#b0a8a8" stroke-width="0.7" stroke-opacity="0.59"/>
<line x1="570" y1="259.82" x2="582.53" y2="259.82" stroke="#b0a8a8" stroke-width="0.7" stroke-opacity="0.60"/>
<line x1="584.93" y1="259.82" x2="597.47" y2="259.82" stroke="#b0a8a8" stroke-width="0.7" stroke-opacity="0.40"/>
<line x1="523.62" y1="263.17" x2="537.73" y2="263.17" stroke="#b0a8a8" stroke-width="0.7" stroke-opacity="0.23"/>
<line x1="570" y1="266.52" x2="582.53" y2="266.52" stroke="#b0a8a8" stroke-width="0.7" stroke-opacity="0.21"/>
<line x1="584.93" y1="266.52" x2="597.47" y2="266.52" stroke="#b0a8a8" stroke-width="0.7" stroke-opacity="0.51"/>
<line x1="519.5" y1="269.2" x2="618.1" y2="269.2" stroke="#231815" stroke-width="1" />
<rect x="507.6" y="269.7" width="122.7" height="197.2" rx="0" stroke="#231815" stroke-width="1" fill="none"/>
<line x1="507.6" y1="272.2" x2="630.3" y2="272.2" stroke="#231815" stroke-width="0.8" />
<line x1="511.7" y1="272.2" x2="511.7" y2="466.9" stroke="#231815" stroke-width="0.7" />
<line x1="516.1" y1="272.2" x2="516.1" y2="466.9" stroke="#231815" stroke-width="0.7" />
<line x1="621.5" y1="272.2" x2="621.5" y2="466.9" stroke="#231815" stroke-width="0.7" />
<line x1="625.9" y1="272.2" x2="625.9" y2="466.9" stroke="#231815" stroke-width="0.7" />
<rect x="542.2" y="290.2" width="5.4" height="3.9" rx="0.8" stroke="#231815" stroke-width="0.9" fill="none"/>
<rect x="590" y="290.2" width="6.4" height="3.9" rx="0.8" stroke="#231815" stroke-width="0.9" fill="none"/>
<line x1="516.8" y1="296.8" x2="621.5" y2="296.8" stroke="#231815" stroke-width="0.9" />
<line x1="517.8" y1="300.4" x2="620.5" y2="300.4" stroke="#231815" stroke-width="0.5" />
<line x1="516.8" y1="303.3" x2="621.5" y2="303.3" stroke="#231815" stroke-width="1.1" />
<line x1="516.8" y1="296.8" x2="516.8" y2="463" stroke="#231815" stroke-width="0.9" />
<line x1="621.5" y1="296.8" x2="621.5" y2="463" stroke="#231815" stroke-width="0.9" />
<line x1="518.6" y1="303.3" x2="518.6" y2="461" stroke="#231815" stroke-width="0.5" />
<line x1="619.7" y1="303.3" x2="619.7" y2="461" stroke="#231815" stroke-width="0.5" />
<line x1="540.3" y1="303.3" x2="540.3" y2="461" stroke="#333" stroke-width="0.85" />
<line x1="559.3" y1="303.3" x2="559.3" y2="461" stroke="#333" stroke-width="0.85" />
<line x1="578.8" y1="303.3" x2="578.8" y2="461" stroke="#333" stroke-width="0.85" />
<line x1="597.8" y1="303.3" x2="597.8" y2="461" stroke="#333" stroke-width="0.85" />
<line x1="520.5" y1="303.3" x2="520.5" y2="461" stroke="#555" stroke-width="0.8" />
<line x1="617.1" y1="303.3" x2="617.1" y2="461" stroke="#555" stroke-width="0.8" />
<line x1="520.5" y1="326.8" x2="617.1" y2="326.8" stroke="#231815" stroke-width="1" />
<line x1="520.5" y1="353.4" x2="617.1" y2="353.4" stroke="#231815" stroke-width="1.25" />
<line x1="520.5" y1="380" x2="617.1" y2="380" stroke="#231815" stroke-width="1.25" />
<line x1="520.5" y1="406.8" x2="617.1" y2="406.8" stroke="#231815" stroke-width="1.25" />
<line x1="520.5" y1="433.6" x2="617.1" y2="433.6" stroke="#231815" stroke-width="1" />
<line x1="516.8" y1="461" x2="621.5" y2="461" stroke="#231815" stroke-width="1.5" />
<line x1="516.8" y1="463.5" x2="621.5" y2="463.5" stroke="#231815" stroke-width="0.6" />
<line x1="507.6" y1="466.9" x2="630.3" y2="466.9" stroke="#231815" stroke-width="1.4" />
<rect x="509" y="466.9" width="119.9" height="9.5" rx="0" stroke="#231815" stroke-width="1" fill="none"/>
<rect x="526.4" y="468.3" width="7.6" height="7.4" rx="1.5" stroke="#231815" stroke-width="1" fill="none"/>
<rect x="545.4" y="468.3" width="19" height="7.4" rx="1.5" stroke="#231815" stroke-width="1.5" fill="none"/>
<rect x="574.7" y="468.3" width="3.6" height="7.4" rx="1.5" stroke="#231815" stroke-width="0.8" fill="none"/>
<rect x="587.9" y="468.3" width="19" height="7.4" rx="1.5" stroke="#231815" stroke-width="1.5" fill="none"/>
<rect x="617.9" y="468.3" width="7.7" height="7.4" rx="1.5" stroke="#231815" stroke-width="1" fill="none"/>
<circle cx="537.3" cy="472.5" r="1" stroke="none" stroke-width="0" fill="#231815"/>
<circle cx="615" cy="472.5" r="1" stroke="none" stroke-width="0" fill="#231815"/>
<line x1="507.6" y1="241.8" x2="507.6" y2="269" stroke="#3a3a3a" stroke-width="0.7" />
<line x1="630.3" y1="241.8" x2="630.3" y2="269" stroke="#3a3a3a" stroke-width="0.7" />
<line x1="507.6" y1="244" x2="630.3" y2="244" stroke="#3a3a3a" stroke-width="0.7" />
<polygon points="513.6,242.75 507.6,244 513.6,245.25" stroke="#3a3a3a" stroke-width="0.6" fill="#3a3a3a" stroke-linejoin="round" />
<polygon points="624.3,245.25 630.3,244 624.3,242.75" stroke="#3a3a3a" stroke-width="0.6" fill="#3a3a3a" stroke-linejoin="round" />
<text x="565.9" y="239.6" font-size="11" text-anchor="start" fill="#231815" font-weight="normal" textLength="17.6" lengthAdjust="spacingAndGlyphs">930</text>
<path d="M198.7,765.3 L201.6,753.6 Q202.2,752 203.8,752 L291.4,752 Q293,752 293.6,753.6 L296.5,765.3 Z" stroke="#231815" stroke-width="0.8" fill="#2a2020" stroke-linejoin="round"/>
<line x1="233.67" y1="755.99" x2="246.4" y2="755.99" stroke="#b0a8a8" stroke-width="0.7" stroke-opacity="0.26"/>
<line x1="248.8" y1="755.99" x2="261.53" y2="755.99" stroke="#b0a8a8" stroke-width="0.7" stroke-opacity="0.70"/>
<line x1="263.93" y1="755.99" x2="276.67" y2="755.99" stroke="#b0a8a8" stroke-width="0.7" stroke-opacity="0.44"/>
<line x1="248.8" y1="759.31" x2="261.53" y2="759.31" stroke="#b0a8a8" stroke-width="0.7" stroke-opacity="0.28"/>
<line x1="279.07" y1="759.31" x2="293.38" y2="759.31" stroke="#b0a8a8" stroke-width="0.7" stroke-opacity="0.46"/>
<line x1="218.53" y1="762.64" x2="231.27" y2="762.64" stroke="#b0a8a8" stroke-width="0.7" stroke-opacity="0.21"/>
<line x1="233.67" y1="762.64" x2="246.4" y2="762.64" stroke="#b0a8a8" stroke-width="0.7" stroke-opacity="0.69"/>
<line x1="248.8" y1="762.64" x2="261.53" y2="762.64" stroke="#b0a8a8" stroke-width="0.7" stroke-opacity="0.55"/>
<line x1="279.07" y1="762.64" x2="292.5" y2="762.64" stroke="#b0a8a8" stroke-width="0.7" stroke-opacity="0.28"/>
<line x1="197.7" y1="765.3" x2="297.5" y2="765.3" stroke="#231815" stroke-width="1" />
<rect x="167.4" y="766.6" width="160.6" height="206.1" rx="0" stroke="#231815" stroke-width="1" fill="none"/>
<line x1="167.4" y1="768.9" x2="328" y2="768.9" stroke="#231815" stroke-width="0.8" />
<line x1="171.1" y1="768.9" x2="171.1" y2="963.2" stroke="#231815" stroke-width="0.6" />
<line x1="167.4" y1="793.8" x2="300.4" y2="793.8" stroke="#231815" stroke-width="1.2" />
<line x1="167.4" y1="876.8" x2="300.4" y2="876.8" stroke="#231815" stroke-width="1.2" />
<line x1="300.4" y1="768.9" x2="300.4" y2="963.2" stroke="#231815" stroke-width="0.8" />
<line x1="305.5" y1="768.9" x2="305.5" y2="963.2" stroke="#231815" stroke-width="1.3" />
<rect x="300.7" y="785.8" width="4.5" height="2" rx="0" fill="#231815"/>
<rect x="300.7" y="800.4" width="4.5" height="2" rx="0" fill="#231815"/>
<rect x="300.7" y="883.8" width="4.5" height="2" rx="0" fill="#231815"/>
<rect x="300.7" y="950.8" width="4.5" height="2" rx="0" fill="#231815"/>
<rect x="310" y="768.9" width="18" height="194.3" rx="0" stroke="#231815" stroke-width="0.9" fill="none"/>
<rect x="311.2" y="770.9" width="7.2" height="188.3" rx="1" stroke="#231815" stroke-width="0.8" fill="none"/>
<line x1="316.9" y1="771.9" x2="316.9" y2="958.2" stroke="#231815" stroke-width="0.5" />
<polyline points="312.5,771.9 314.8,782.9 317.1,771.9" stroke="#231815" stroke-width="0.5" fill="none" stroke-linejoin="round" />
<line x1="311.2" y1="795.8" x2="318.4" y2="795.8" stroke="#231815" stroke-width="0.6" />
<line x1="311.2" y1="823.4" x2="318.4" y2="823.4" stroke="#231815" stroke-width="0.6" />
<line x1="311.2" y1="850.8" x2="318.4" y2="850.8" stroke="#231815" stroke-width="0.6" />
<line x1="311.2" y1="877.4" x2="318.4" y2="877.4" stroke="#231815" stroke-width="0.6" />
<line x1="311.2" y1="904" x2="318.4" y2="904" stroke="#231815" stroke-width="0.6" />
<line x1="311.2" y1="930.3" x2="318.4" y2="930.3" stroke="#231815" stroke-width="0.6" />
<rect x="319.6" y="770.9" width="7.2" height="188.3" rx="1" stroke="#231815" stroke-width="0.8" fill="none"/>
<line x1="325.3" y1="771.9" x2="325.3" y2="958.2" stroke="#231815" stroke-width="0.5" />
<polyline points="320.9,771.9 323.2,782.9 325.5,771.9" stroke="#231815" stroke-width="0.5" fill="none" stroke-linejoin="round" />
<line x1="319.6" y1="795.8" x2="326.8" y2="795.8" stroke="#231815" stroke-width="0.6" />
<line x1="319.6" y1="823.4" x2="326.8" y2="823.4" stroke="#231815" stroke-width="0.6" />
<line x1="319.6" y1="850.8" x2="326.8" y2="850.8" stroke="#231815" stroke-width="0.6" />
<line x1="319.6" y1="877.4" x2="326.8" y2="877.4" stroke="#231815" stroke-width="0.6" />
<line x1="319.6" y1="904" x2="326.8" y2="904" stroke="#231815" stroke-width="0.6" />
<line x1="319.6" y1="930.3" x2="326.8" y2="930.3" stroke="#231815" stroke-width="0.6" />
<rect x="229.1" y="773.6" width="5.2" height="16.2" rx="0.7" stroke="#231815" stroke-width="0.9" fill="none"/>
<line x1="230.3" y1="776.1" x2="233.1" y2="776.1" stroke="#231815" stroke-width="0.5" />
<line x1="230.3" y1="787.3" x2="233.1" y2="787.3" stroke="#231815" stroke-width="0.5" />
<line x1="231.7" y1="776.6" x2="231.7" y2="786.8" stroke="#999" stroke-width="0.35" />
<rect x="229.1" y="798.5" width="5.2" height="74.3" rx="0.7" stroke="#231815" stroke-width="0.9" fill="none"/>
<line x1="230.3" y1="801" x2="233.1" y2="801" stroke="#231815" stroke-width="0.5" />
<line x1="230.3" y1="870.3" x2="233.1" y2="870.3" stroke="#231815" stroke-width="0.5" />
<line x1="231.7" y1="801.5" x2="231.7" y2="869.8" stroke="#999" stroke-width="0.35" />
<rect x="229.1" y="881.6" width="5.2" height="77.2" rx="0.7" stroke="#231815" stroke-width="0.9" fill="none"/>
<line x1="230.3" y1="884.1" x2="233.1" y2="884.1" stroke="#231815" stroke-width="0.5" />
<line x1="230.3" y1="956.3" x2="233.1" y2="956.3" stroke="#231815" stroke-width="0.5" />
<line x1="231.7" y1="884.6" x2="231.7" y2="955.8" stroke="#999" stroke-width="0.35" />
<rect x="237.4" y="773.6" width="5.2" height="16.2" rx="0.7" stroke="#231815" stroke-width="0.9" fill="none"/>
<line x1="238.6" y1="776.1" x2="241.4" y2="776.1" stroke="#231815" stroke-width="0.5" />
<line x1="238.6" y1="787.3" x2="241.4" y2="787.3" stroke="#231815" stroke-width="0.5" />
<line x1="240" y1="776.6" x2="240" y2="786.8" stroke="#999" stroke-width="0.35" />
<rect x="237.4" y="798.5" width="5.2" height="74.3" rx="0.7" stroke="#231815" stroke-width="0.9" fill="none"/>
<line x1="238.6" y1="801" x2="241.4" y2="801" stroke="#231815" stroke-width="0.5" />
<line x1="238.6" y1="870.3" x2="241.4" y2="870.3" stroke="#231815" stroke-width="0.5" />
<line x1="240" y1="801.5" x2="240" y2="869.8" stroke="#999" stroke-width="0.35" />
<rect x="237.4" y="881.6" width="5.2" height="77.2" rx="0.7" stroke="#231815" stroke-width="0.9" fill="none"/>
<line x1="238.6" y1="884.1" x2="241.4" y2="884.1" stroke="#231815" stroke-width="0.5" />
<line x1="238.6" y1="956.3" x2="241.4" y2="956.3" stroke="#231815" stroke-width="0.5" />
<line x1="240" y1="884.6" x2="240" y2="955.8" stroke="#999" stroke-width="0.35" />
<rect x="245" y="773.6" width="5.2" height="16.2" rx="0.7" stroke="#231815" stroke-width="0.9" fill="none"/>
<line x1="246.2" y1="776.1" x2="249" y2="776.1" stroke="#231815" stroke-width="0.5" />
<line x1="246.2" y1="787.3" x2="249" y2="787.3" stroke="#231815" stroke-width="0.5" />
<line x1="247.6" y1="776.6" x2="247.6" y2="786.8" stroke="#999" stroke-width="0.35" />
<rect x="245" y="798.5" width="5.2" height="74.3" rx="0.7" stroke="#231815" stroke-width="0.9" fill="none"/>
<line x1="246.2" y1="801" x2="249" y2="801" stroke="#231815" stroke-width="0.5" />
<line x1="246.2" y1="870.3" x2="249" y2="870.3" stroke="#231815" stroke-width="0.5" />
<line x1="247.6" y1="801.5" x2="247.6" y2="869.8" stroke="#999" stroke-width="0.35" />
<rect x="245" y="881.6" width="5.2" height="77.2" rx="0.7" stroke="#231815" stroke-width="0.9" fill="none"/>
<line x1="246.2" y1="884.1" x2="249" y2="884.1" stroke="#231815" stroke-width="0.5" />
<line x1="246.2" y1="956.3" x2="249" y2="956.3" stroke="#231815" stroke-width="0.5" />
<line x1="247.6" y1="884.6" x2="247.6" y2="955.8" stroke="#999" stroke-width="0.35" />
<rect x="174.8" y="801.2" width="5.2" height="69.6" rx="0.7" stroke="#231815" stroke-width="0.9" fill="none"/>
<line x1="176" y1="803.7" x2="178.8" y2="803.7" stroke="#231815" stroke-width="0.5" />
<line x1="176" y1="868.3" x2="178.8" y2="868.3" stroke="#231815" stroke-width="0.5" />
<line x1="177.4" y1="804.2" x2="177.4" y2="867.8" stroke="#999" stroke-width="0.35" />
<rect x="174.8" y="896.6" width="5.2" height="32.2" rx="0.7" stroke="#231815" stroke-width="0.9" fill="none"/>
<line x1="176" y1="899.1" x2="178.8" y2="899.1" stroke="#231815" stroke-width="0.5" />
<line x1="176" y1="926.3" x2="178.8" y2="926.3" stroke="#231815" stroke-width="0.5" />
<line x1="177.4" y1="899.6" x2="177.4" y2="925.8" stroke="#999" stroke-width="0.35" />
<circle cx="180.7" cy="887" r="5.2" stroke="#231815" stroke-width="1.3" fill="none"/>
<circle cx="194.1" cy="887" r="5.2" stroke="#231815" stroke-width="1.3" fill="none"/>
<path d="M167.4,935.4 L197.4,935.4 Q200.4,935.4 200.4,938.4 L200.4,963" stroke="#231815" stroke-width="1" fill="none" stroke-linejoin="round"/>
<circle cx="178.4" cy="941.9" r="2.7" stroke="#231815" stroke-width="0.9" fill="none"/>
<circle cx="188.7" cy="941.9" r="2.7" stroke="#231815" stroke-width="0.9" fill="none"/>
<circle cx="196.3" cy="939" r="1.4" stroke="#231815" stroke-width="0.7" fill="none"/>
<circle cx="196.3" cy="944.6" r="1.4" stroke="#231815" stroke-width="0.7" fill="none"/>
<rect x="174.7" y="947.1" width="24.2" height="12.4" rx="3" stroke="#231815" stroke-width="1" fill="none"/>
<rect x="177.7" y="949.3" width="16" height="8.7" rx="2" stroke="#231815" stroke-width="0.8" fill="none"/>
<line x1="167.4" y1="963.2" x2="328" y2="963.2" stroke="#231815" stroke-width="1.6" />
<line x1="310" y1="963.2" x2="310" y2="972.7" stroke="#231815" stroke-width="0.8" />
<rect x="170.4" y="965.3" width="9" height="5.5" rx="1.5" stroke="#231815" stroke-width="1" fill="none"/>
<rect x="189.7" y="965.3" width="19.3" height="5.5" rx="1.5" stroke="#231815" stroke-width="1" fill="none"/>
<rect x="261.8" y="965.3" width="5.2" height="5.5" rx="1.5" stroke="#231815" stroke-width="1" fill="none"/>
<rect x="272" y="965.3" width="19.4" height="5.5" rx="1.5" stroke="#231815" stroke-width="1" fill="none"/>
<rect x="301.7" y="965.3" width="9" height="5.5" rx="1.5" stroke="#231815" stroke-width="1" fill="none"/>
<circle cx="185.4" cy="967.5" r="1.8" stroke="#231815" stroke-width="0.8" fill="none"/>
<circle cx="216.8" cy="967.3" r="1.8" stroke="#231815" stroke-width="0.8" fill="none"/>
<circle cx="295.2" cy="967.3" r="1.8" stroke="#231815" stroke-width="0.8" fill="none"/>
<line x1="294" y1="751.6" x2="354.5" y2="751.6" stroke="#3a3a3a" stroke-width="0.7" />
<line x1="330" y1="971" x2="354.5" y2="971" stroke="#3a3a3a" stroke-width="0.7" />
<line x1="351.9" y1="751.6" x2="351.9" y2="971" stroke="#3a3a3a" stroke-width="0.7" />
<polygon points="353.15,757.6 351.9,751.6 350.65,757.6" stroke="#3a3a3a" stroke-width="0.6" fill="#3a3a3a" stroke-linejoin="round" />
<polygon points="350.65,965 351.9,971 353.15,965" stroke="#3a3a3a" stroke-width="0.6" fill="#3a3a3a" stroke-linejoin="round" />
<text x="349" y="861.2" font-size="11.3" text-anchor="middle" fill="#231815" font-weight="normal" textLength="22.5" lengthAdjust="spacingAndGlyphs" transform="rotate(-90 349 861.2)">1690</text>
<line x1="185.4" y1="964" x2="194.9" y2="980.6" stroke="#3a3a3a" stroke-width="0.6" />
<rect x="188" y="980.6" width="14" height="14" rx="2" fill="#231815"/>
<text x="195" y="991" font-size="9" text-anchor="middle" fill="#ffffff" font-weight="bold" textLength="5.3" lengthAdjust="spacingAndGlyphs">A</text>
<rect x="205.2" y="980.6" width="14" height="14" rx="2" fill="#231815"/>
<text x="212.2" y="991" font-size="9" text-anchor="middle" fill="#ffffff" font-weight="bold" textLength="5.3" lengthAdjust="spacingAndGlyphs">C</text>
<path d="M374.5,767.81 L377.4,756.47 Q378,754.87 379.6,754.87 L465.3,754.87 Q466.9,754.87 467.5,756.47 L470.4,767.81 Z" stroke="#231815" stroke-width="0.8" fill="#2a2020" stroke-linejoin="round"/>
<line x1="376.75" y1="758.75" x2="394.58" y2="758.75" stroke="#b0a8a8" stroke-width="0.7" stroke-opacity="0.47"/>
<line x1="396.98" y1="758.75" x2="412.36" y2="758.75" stroke="#b0a8a8" stroke-width="0.7" stroke-opacity="0.36"/>
<line x1="432.54" y1="758.75" x2="447.92" y2="758.75" stroke="#b0a8a8" stroke-width="0.7" stroke-opacity="0.69"/>
<line x1="450.32" y1="758.75" x2="468.15" y2="758.75" stroke="#b0a8a8" stroke-width="0.7" stroke-opacity="0.60"/>
<line x1="377.62" y1="761.99" x2="394.58" y2="761.99" stroke="#b0a8a8" stroke-width="0.7" stroke-opacity="0.57"/>
<line x1="414.76" y1="761.99" x2="430.14" y2="761.99" stroke="#b0a8a8" stroke-width="0.7" stroke-opacity="0.38"/>
<line x1="414.76" y1="765.23" x2="430.14" y2="765.23" stroke="#b0a8a8" stroke-width="0.7" stroke-opacity="0.68"/>
<line x1="432.54" y1="765.23" x2="447.92" y2="765.23" stroke="#b0a8a8" stroke-width="0.7" stroke-opacity="0.67"/>
<line x1="450.32" y1="765.23" x2="466.4" y2="765.23" stroke="#b0a8a8" stroke-width="0.7" stroke-opacity="0.68"/>
<line x1="373.5" y1="767.81" x2="471.4" y2="767.81" stroke="#231815" stroke-width="1" />
<rect x="373.5" y="768.3" width="97.7" height="191.58" rx="0" stroke="#231815" stroke-width="1" fill="none"/>
<line x1="373.5" y1="770.83" x2="471.2" y2="770.83" stroke="#231815" stroke-width="0.8" />
<rect x="374.9" y="772.83" width="7.74" height="181.26" rx="1.5" stroke="#231815" stroke-width="0.8" fill="none"/>
<line x1="376.5" y1="774.83" x2="376.5" y2="952.09" stroke="#231815" stroke-width="0.6" />
<line x1="381.04" y1="774.83" x2="381.04" y2="952.09" stroke="#231815" stroke-width="0.5" />
<polyline points="376.5,774.33 378.77,782.83 381.04,774.33" stroke="#231815" stroke-width="0.5" fill="none" stroke-linejoin="round" />
<rect x="383.64" y="772.83" width="7.34" height="181.26" rx="1.5" stroke="#231815" stroke-width="0.8" fill="none"/>
<line x1="385.24" y1="774.83" x2="385.24" y2="952.09" stroke="#231815" stroke-width="0.6" />
<line x1="389.37" y1="774.83" x2="389.37" y2="952.09" stroke="#231815" stroke-width="0.5" />
<polyline points="385.24,774.33 387.3,782.83 389.37,774.33" stroke="#231815" stroke-width="0.5" fill="none" stroke-linejoin="round" />
<line x1="376.1" y1="788.83" x2="377.7" y2="790.93" stroke="#231815" stroke-width="0.9" />
<line x1="376.1" y1="793.03" x2="377.7" y2="795.13" stroke="#231815" stroke-width="0.9" />
<line x1="376.1" y1="797.23" x2="377.7" y2="799.33" stroke="#231815" stroke-width="0.9" />
<line x1="376.1" y1="801.43" x2="377.7" y2="803.53" stroke="#231815" stroke-width="0.9" />
<line x1="376.1" y1="805.63" x2="377.7" y2="807.73" stroke="#231815" stroke-width="0.9" />
<line x1="376.1" y1="809.83" x2="377.7" y2="811.93" stroke="#231815" stroke-width="0.9" />
<line x1="376.1" y1="814.03" x2="377.7" y2="816.13" stroke="#231815" stroke-width="0.9" />
<line x1="376.1" y1="818.23" x2="377.7" y2="820.33" stroke="#231815" stroke-width="0.9" />
<line x1="376.1" y1="822.43" x2="377.7" y2="824.53" stroke="#231815" stroke-width="0.9" />
<line x1="376.1" y1="826.63" x2="377.7" y2="828.73" stroke="#231815" stroke-width="0.9" />
<line x1="376.1" y1="830.83" x2="377.7" y2="832.93" stroke="#231815" stroke-width="0.9" />
<line x1="376.1" y1="835.03" x2="377.7" y2="837.13" stroke="#231815" stroke-width="0.9" />
<line x1="376.1" y1="839.23" x2="377.7" y2="841.33" stroke="#231815" stroke-width="0.9" />
<line x1="376.1" y1="843.43" x2="377.7" y2="845.53" stroke="#231815" stroke-width="0.9" />
<line x1="376.1" y1="847.63" x2="377.7" y2="849.73" stroke="#231815" stroke-width="0.9" />
<line x1="376.1" y1="851.83" x2="377.7" y2="853.93" stroke="#231815" stroke-width="0.9" />
<line x1="376.1" y1="856.03" x2="377.7" y2="858.13" stroke="#231815" stroke-width="0.9" />
<line x1="376.1" y1="860.23" x2="377.7" y2="862.33" stroke="#231815" stroke-width="0.9" />
<line x1="376.1" y1="864.43" x2="377.7" y2="866.53" stroke="#231815" stroke-width="0.9" />
<line x1="376.1" y1="868.63" x2="377.7" y2="870.73" stroke="#231815" stroke-width="0.9" />
<line x1="376.1" y1="872.83" x2="377.7" y2="874.93" stroke="#231815" stroke-width="0.9" />
<line x1="376.1" y1="877.03" x2="377.7" y2="879.13" stroke="#231815" stroke-width="0.9" />
<line x1="376.1" y1="881.23" x2="377.7" y2="883.33" stroke="#231815" stroke-width="0.9" />
<line x1="376.1" y1="885.43" x2="377.7" y2="887.53" stroke="#231815" stroke-width="0.9" />
<line x1="376.1" y1="889.63" x2="377.7" y2="891.73" stroke="#231815" stroke-width="0.9" />
<line x1="376.1" y1="893.83" x2="377.7" y2="895.93" stroke="#231815" stroke-width="0.9" />
<line x1="376.1" y1="898.03" x2="377.7" y2="900.13" stroke="#231815" stroke-width="0.9" />
<line x1="376.1" y1="902.23" x2="377.7" y2="904.33" stroke="#231815" stroke-width="0.9" />
<line x1="376.1" y1="906.43" x2="377.7" y2="908.53" stroke="#231815" stroke-width="0.9" />
<line x1="376.1" y1="910.63" x2="377.7" y2="912.73" stroke="#231815" stroke-width="0.9" />
<line x1="376.1" y1="914.83" x2="377.7" y2="916.93" stroke="#231815" stroke-width="0.9" />
<line x1="376.1" y1="919.03" x2="377.7" y2="921.13" stroke="#231815" stroke-width="0.9" />
<line x1="376.1" y1="923.23" x2="377.7" y2="925.33" stroke="#231815" stroke-width="0.9" />
<line x1="376.1" y1="927.43" x2="377.7" y2="929.53" stroke="#231815" stroke-width="0.9" />
<line x1="376.1" y1="931.63" x2="377.7" y2="933.73" stroke="#231815" stroke-width="0.9" />
<line x1="376.1" y1="935.83" x2="377.7" y2="937.93" stroke="#231815" stroke-width="0.9" />
<line x1="376.1" y1="940.03" x2="377.7" y2="942.13" stroke="#231815" stroke-width="0.9" />
<line x1="376.1" y1="944.23" x2="377.7" y2="946.33" stroke="#231815" stroke-width="0.9" />
<line x1="376.1" y1="948.43" x2="377.7" y2="950.53" stroke="#231815" stroke-width="0.9" />
<line x1="383.64" y1="797.3" x2="390.97" y2="797.3" stroke="#231815" stroke-width="0.5" />
<line x1="383.64" y1="823.76" x2="390.97" y2="823.76" stroke="#231815" stroke-width="0.5" />
<line x1="383.64" y1="850.23" x2="390.97" y2="850.23" stroke="#231815" stroke-width="0.5" />
<line x1="383.64" y1="876.69" x2="390.97" y2="876.69" stroke="#231815" stroke-width="0.5" />
<line x1="383.64" y1="903.16" x2="390.97" y2="903.16" stroke="#231815" stroke-width="0.5" />
<line x1="383.64" y1="929.62" x2="390.97" y2="929.62" stroke="#231815" stroke-width="0.5" />
<line x1="392.57" y1="770.83" x2="392.57" y2="959.88" stroke="#231815" stroke-width="1.2" />
<line x1="396.46" y1="770.83" x2="396.46" y2="959.88" stroke="#231815" stroke-width="0.6" />
<line x1="462.83" y1="770.83" x2="462.83" y2="959.88" stroke="#231815" stroke-width="0.6" />
<line x1="467.41" y1="770.83" x2="467.41" y2="959.88" stroke="#231815" stroke-width="0.8" />
<line x1="397.24" y1="794.57" x2="463.61" y2="794.57" stroke="#231815" stroke-width="1.1" />
<line x1="398.24" y1="797" x2="462.61" y2="797" stroke="#231815" stroke-width="0.5" />
<line x1="397.24" y1="801.38" x2="463.61" y2="801.38" stroke="#231815" stroke-width="1.1" />
<line x1="397.24" y1="794.57" x2="397.24" y2="956.09" stroke="#231815" stroke-width="1" />
<line x1="463.61" y1="794.57" x2="463.61" y2="956.09" stroke="#231815" stroke-width="1" />
<line x1="401.81" y1="801.38" x2="401.81" y2="953.75" stroke="#231815" stroke-width="1.1" />
<line x1="459.04" y1="801.38" x2="459.04" y2="953.75" stroke="#231815" stroke-width="1.1" />
<line x1="399.44" y1="801.38" x2="399.44" y2="953.75" stroke="#231815" stroke-width="0.5" />
<line x1="461.41" y1="801.38" x2="461.41" y2="953.75" stroke="#231815" stroke-width="0.5" />
<line x1="420.89" y1="801.38" x2="420.89" y2="953.75" stroke="#231815" stroke-width="1.1" />
<line x1="439.96" y1="801.38" x2="439.96" y2="953.75" stroke="#231815" stroke-width="1.1" />
<line x1="401.81" y1="824.34" x2="459.04" y2="824.34" stroke="#231815" stroke-width="1.1" />
<line x1="401.81" y1="850.03" x2="459.04" y2="850.03" stroke="#231815" stroke-width="1.1" />
<line x1="401.81" y1="875.91" x2="459.04" y2="875.91" stroke="#231815" stroke-width="1.1" />
<line x1="401.81" y1="901.8" x2="459.04" y2="901.8" stroke="#231815" stroke-width="1.1" />
<line x1="401.81" y1="928.07" x2="459.04" y2="928.07" stroke="#231815" stroke-width="1.1" />
<line x1="397.24" y1="953.75" x2="463.61" y2="953.75" stroke="#231815" stroke-width="1.5" />
<line x1="397.24" y1="956.09" x2="463.61" y2="956.09" stroke="#231815" stroke-width="0.6" />
<line x1="373.5" y1="959.88" x2="471.2" y2="959.88" stroke="#231815" stroke-width="1.5" />
<polygon points="375,959.88 383.5,959.88 380,969.03 375,969.03" stroke="#231815" stroke-width="1" fill="none" stroke-linejoin="round" />
<line x1="374" y1="969.03" x2="380.5" y2="969.03" stroke="#231815" stroke-width="1.2" />
<polygon points="461.2,959.88 470.5,959.88 470.5,969.03 466.7,969.03" stroke="#231815" stroke-width="1" fill="none" stroke-linejoin="round" />
<line x1="465.7" y1="969.03" x2="471.2" y2="969.03" stroke="#231815" stroke-width="1.2" />
<line x1="373.5" y1="738.5" x2="373.5" y2="767" stroke="#3a3a3a" stroke-width="0.7" />
<line x1="471.2" y1="738.5" x2="471.2" y2="767" stroke="#3a3a3a" stroke-width="0.7" />
<line x1="373.5" y1="741" x2="471.2" y2="741" stroke="#3a3a3a" stroke-width="0.7" />
<polygon points="379.5,739.75 373.5,741 379.5,742.25" stroke="#3a3a3a" stroke-width="0.6" fill="#3a3a3a" stroke-linejoin="round" />
<polygon points="465.2,742.25 471.2,741 465.2,739.75" stroke="#3a3a3a" stroke-width="0.6" fill="#3a3a3a" stroke-linejoin="round" />
<text x="415.5" y="738.3" font-size="11" text-anchor="start" fill="#231815" font-weight="normal" textLength="17.6" lengthAdjust="spacingAndGlyphs">765</text>
<path d="M548.3,770.01 L551.2,758.56 Q551.8,756.96 553.4,756.96 L638.3,756.96 Q639.9,756.96 640.5,758.56 L643.4,770.01 Z" stroke="#231815" stroke-width="0.8" fill="#2a2020" stroke-linejoin="round"/>
<line x1="550.55" y1="760.88" x2="568.22" y2="760.88" stroke="#b0a8a8" stroke-width="0.7" stroke-opacity="0.31"/>
<line x1="623.48" y1="760.88" x2="641.15" y2="760.88" stroke="#b0a8a8" stroke-width="0.7" stroke-opacity="0.65"/>
<line x1="551.42" y1="764.14" x2="568.22" y2="764.14" stroke="#b0a8a8" stroke-width="0.7" stroke-opacity="0.44"/>
<line x1="570.62" y1="764.14" x2="585.84" y2="764.14" stroke="#b0a8a8" stroke-width="0.7" stroke-opacity="0.60"/>
<line x1="605.86" y1="764.14" x2="621.08" y2="764.14" stroke="#b0a8a8" stroke-width="0.7" stroke-opacity="0.65"/>
<line x1="623.48" y1="764.14" x2="640.27" y2="764.14" stroke="#b0a8a8" stroke-width="0.7" stroke-opacity="0.58"/>
<line x1="552.3" y1="767.4" x2="568.22" y2="767.4" stroke="#b0a8a8" stroke-width="0.7" stroke-opacity="0.29"/>
<line x1="570.62" y1="767.4" x2="585.84" y2="767.4" stroke="#b0a8a8" stroke-width="0.7" stroke-opacity="0.37"/>
<line x1="588.24" y1="767.4" x2="603.46" y2="767.4" stroke="#b0a8a8" stroke-width="0.7" stroke-opacity="0.69"/>
<line x1="605.86" y1="767.4" x2="621.08" y2="767.4" stroke="#b0a8a8" stroke-width="0.7" stroke-opacity="0.40"/>
<line x1="623.48" y1="767.4" x2="639.4" y2="767.4" stroke="#b0a8a8" stroke-width="0.7" stroke-opacity="0.56"/>
<line x1="547.3" y1="770.01" x2="644.4" y2="770.01" stroke="#231815" stroke-width="1" />
<rect x="515.9" y="770.5" width="159.5" height="192.07" rx="0" stroke="#231815" stroke-width="1" fill="none"/>
<line x1="515.9" y1="772.93" x2="675.4" y2="772.93" stroke="#231815" stroke-width="0.8" />
<line x1="520" y1="772.93" x2="520" y2="962.57" stroke="#231815" stroke-width="0.7" />
<line x1="524.4" y1="772.93" x2="524.4" y2="962.57" stroke="#231815" stroke-width="0.7" />
<line x1="666.6" y1="772.93" x2="666.6" y2="962.57" stroke="#231815" stroke-width="0.7" />
<line x1="671" y1="772.93" x2="671" y2="962.57" stroke="#231815" stroke-width="0.7" />
<rect x="569.6" y="790.47" width="5.1" height="3.9" rx="0.8" stroke="#231815" stroke-width="0.9" fill="none"/>
<rect x="616.5" y="790.47" width="5.2" height="3.9" rx="0.8" stroke="#231815" stroke-width="0.9" fill="none"/>
<line x1="525.1" y1="796.9" x2="666.6" y2="796.9" stroke="#231815" stroke-width="0.9" />
<line x1="526.1" y1="800.4" x2="665.6" y2="800.4" stroke="#231815" stroke-width="0.5" />
<line x1="525.1" y1="803.23" x2="666.6" y2="803.23" stroke="#231815" stroke-width="1.1" />
<line x1="525.1" y1="796.9" x2="525.1" y2="958.77" stroke="#231815" stroke-width="0.9" />
<line x1="666.6" y1="796.9" x2="666.6" y2="958.77" stroke="#231815" stroke-width="0.9" />
<line x1="526.9" y1="803.23" x2="526.9" y2="956.83" stroke="#231815" stroke-width="0.5" />
<line x1="664.8" y1="803.23" x2="664.8" y2="956.83" stroke="#231815" stroke-width="0.5" />
<line x1="549.6" y1="803.23" x2="549.6" y2="956.83" stroke="#333" stroke-width="0.85" />
<line x1="567.7" y1="803.23" x2="567.7" y2="956.83" stroke="#333" stroke-width="0.85" />
<line x1="586.3" y1="803.23" x2="586.3" y2="956.83" stroke="#333" stroke-width="0.85" />
<line x1="604.8" y1="803.23" x2="604.8" y2="956.83" stroke="#333" stroke-width="0.85" />
<line x1="623.2" y1="803.23" x2="623.2" y2="956.83" stroke="#333" stroke-width="0.85" />
<line x1="641.9" y1="803.23" x2="641.9" y2="956.83" stroke="#333" stroke-width="0.85" />
<line x1="527.6" y1="803.23" x2="527.6" y2="956.83" stroke="#555" stroke-width="0.8" />
<line x1="663.2" y1="803.23" x2="663.2" y2="956.83" stroke="#555" stroke-width="0.8" />
<line x1="527.6" y1="826.12" x2="663.2" y2="826.12" stroke="#231815" stroke-width="1" />
<line x1="527.6" y1="852.02" x2="663.2" y2="852.02" stroke="#231815" stroke-width="1.25" />
<line x1="527.6" y1="877.93" x2="663.2" y2="877.93" stroke="#231815" stroke-width="1.25" />
<line x1="527.6" y1="904.04" x2="663.2" y2="904.04" stroke="#231815" stroke-width="1.25" />
<line x1="527.6" y1="930.14" x2="663.2" y2="930.14" stroke="#231815" stroke-width="1" />
<line x1="525.1" y1="956.83" x2="666.6" y2="956.83" stroke="#231815" stroke-width="1.5" />
<line x1="525.1" y1="959.26" x2="666.6" y2="959.26" stroke="#231815" stroke-width="0.6" />
<line x1="515.9" y1="962.57" x2="675.4" y2="962.57" stroke="#231815" stroke-width="1.4" />
<rect x="517.3" y="962.57" width="156.7" height="9.25" rx="0" stroke="#231815" stroke-width="1" fill="none"/>
<rect x="534.2" y="963.94" width="7.5" height="7.21" rx="1.5" stroke="#231815" stroke-width="1" fill="none"/>
<rect x="552" y="963.94" width="19.3" height="7.21" rx="1.5" stroke="#231815" stroke-width="1.5" fill="none"/>
<rect x="578" y="963.94" width="3" height="7.21" rx="1.5" stroke="#231815" stroke-width="0.8" fill="none"/>
<rect x="623.2" y="963.94" width="5.1" height="7.21" rx="1.5" stroke="#231815" stroke-width="0.8" fill="none"/>
<rect x="634" y="963.94" width="18.8" height="7.21" rx="1.5" stroke="#231815" stroke-width="1.5" fill="none"/>
<rect x="663.2" y="963.94" width="7.5" height="7.21" rx="1.5" stroke="#231815" stroke-width="1" fill="none"/>
<circle cx="546" cy="968.03" r="1" stroke="none" stroke-width="0" fill="#231815"/>
<circle cx="658" cy="968.03" r="1" stroke="none" stroke-width="0" fill="#231815"/>
<line x1="515.9" y1="743.5" x2="515.9" y2="769" stroke="#3a3a3a" stroke-width="0.7" />
<line x1="675.4" y1="743.5" x2="675.4" y2="769" stroke="#3a3a3a" stroke-width="0.7" />
<line x1="515.9" y1="746.4" x2="675.4" y2="746.4" stroke="#3a3a3a" stroke-width="0.7" />
<polygon points="521.9,745.15 515.9,746.4 521.9,747.65" stroke="#3a3a3a" stroke-width="0.6" fill="#3a3a3a" stroke-linejoin="round" />
<polygon points="669.4,747.65 675.4,746.4 669.4,745.15" stroke="#3a3a3a" stroke-width="0.6" fill="#3a3a3a" stroke-linejoin="round" />
<text x="584" y="741" font-size="11" text-anchor="start" fill="#231815" font-weight="normal" textLength="22.7" lengthAdjust="spacingAndGlyphs">1240</text>
<rect x="718.3" y="406.6" width="222.8" height="178.4" rx="0" stroke="#555" stroke-width="1.3" fill="none"/>
<rect x="708.4" y="396.4" width="19.7" height="20.2" rx="2.5" fill="#231815"/>
<text x="718.25" y="411" font-size="11.5" text-anchor="middle" fill="#fff" font-weight="bold" textLength="8" lengthAdjust="spacingAndGlyphs">A</text>
<text x="736" y="419.6" font-size="11.6" text-anchor="start" fill="#231815" font-weight="normal" textLength="130" lengthAdjust="spacingAndGlyphs">Front side knockout position</text>
<line x1="771.9" y1="425.6" x2="771.9" y2="540" stroke="#231815" stroke-width="0.8" />
<line x1="779.5" y1="425.6" x2="779.5" y2="536" stroke="#231815" stroke-width="0.8" />
<line x1="788" y1="446" x2="788" y2="513" stroke="#231815" stroke-width="0.8" />
<line x1="793.7" y1="434.4" x2="793.7" y2="500.4" stroke="#231815" stroke-width="0.8" />
<line x1="739" y1="435.8" x2="802.9" y2="435.8" stroke="#231815" stroke-width="0.7" />
<polygon points="768.4,436.9 771.9,435.8 768.4,434.7" stroke="#231815" stroke-width="0.6" fill="#231815" stroke-linejoin="round" />
<polygon points="797.2,434.7 793.7,435.8 797.2,436.9" stroke="#231815" stroke-width="0.6" fill="#231815" stroke-linejoin="round" />
<line x1="739.7" y1="447.4" x2="798.8" y2="447.4" stroke="#231815" stroke-width="0.7" />
<polygon points="768.4,448.5 771.9,447.4 768.4,446.3" stroke="#231815" stroke-width="0.6" fill="#231815" stroke-linejoin="round" />
<polygon points="791.5,446.3 788,447.4 791.5,448.5" stroke="#231815" stroke-width="0.6" fill="#231815" stroke-linejoin="round" />
<text x="755.3" y="434.4" font-size="8.8" text-anchor="start" fill="#231815" font-weight="normal" textLength="9.5" lengthAdjust="spacingAndGlyphs">73</text>
<text x="754.6" y="446" font-size="8.8" text-anchor="start" fill="#231815" font-weight="normal" textLength="10.2" lengthAdjust="spacingAndGlyphs">43</text>
<text x="747.2" y="464.3" font-size="8.8" text-anchor="start" fill="#231815" font-weight="normal" textLength="17" lengthAdjust="spacingAndGlyphs">Ø50</text>
<polyline points="747.8,466 768.2,466 796.6,487.5" stroke="#231815" stroke-width="0.7" fill="none" stroke-linejoin="round" />
<text x="727.4" y="474.2" font-size="7.2" text-anchor="start" fill="#3a3340" font-weight="normal" textLength="39.5" lengthAdjust="spacingAndGlyphs">Power supply</text>
<text x="727.4" y="482.2" font-size="7.2" text-anchor="start" fill="#3a3340" font-weight="normal" textLength="30.6" lengthAdjust="spacingAndGlyphs">cable port</text>
<line x1="772.3" y1="473.6" x2="846" y2="473.6" stroke="#231815" stroke-width="2.2" />
<path d="M779.1,473.6 L779.1,536" stroke="#231815" stroke-width="2.2" fill="none" stroke-linejoin="round"/>
<path d="M843.3,473.6 Q847.3,473.6 847.3,477.6 L847.3,536" stroke="#231815" stroke-width="2.2" fill="none" stroke-linejoin="round"/>
<circle cx="796.6" cy="487.5" r="6.3" stroke="#c8c8c8" stroke-width="1.4" fill="none"/>
<circle cx="796.6" cy="487.5" r="7.6" stroke="#231815" stroke-width="0.9" fill="none"/>
<circle cx="796.6" cy="487.5" r="5" stroke="#231815" stroke-width="1" fill="none"/>
<line x1="793" y1="483.9" x2="800.2" y2="491.1" stroke="#231815" stroke-width="0.8" />
<line x1="793" y1="491.1" x2="800.2" y2="483.9" stroke="#231815" stroke-width="0.8" />
<circle cx="819.7" cy="487.5" r="6.5" stroke="#231815" stroke-width="1.1" fill="none"/>
<line x1="815" y1="493.5" x2="824.5" y2="481.5" stroke="#231815" stroke-width="0.8" />
<circle cx="834.9" cy="482" r="3" stroke="#231815" stroke-width="0.9" fill="none"/>
<line x1="831.5" y1="485" x2="839" y2="478" stroke="#231815" stroke-width="0.7" />
<circle cx="835.3" cy="492.9" r="3" stroke="#231815" stroke-width="0.9" fill="none"/>
<rect x="787.7" y="500.4" width="52.4" height="27.9" rx="3" stroke="#231815" stroke-width="1.1" fill="none"/>
<rect x="793.2" y="503.1" width="36.7" height="22.5" rx="4" stroke="#231815" stroke-width="1" fill="none"/>
<circle cx="819.7" cy="515" r="0.8" stroke="none" stroke-width="0" fill="#231815"/>
<circle cx="835.3" cy="510.2" r="0.8" stroke="none" stroke-width="0" fill="#231815"/>
<polyline points="819.7,515 855.1,528.3 885.2,528.3" stroke="#231815" stroke-width="0.7" fill="none" stroke-linejoin="round" />
<line x1="835.3" y1="510.2" x2="855.1" y2="528.3" stroke="#231815" stroke-width="0.7" />
<text x="857" y="525.8" font-size="7.6" text-anchor="start" fill="#3a3340" font-weight="normal" textLength="28.2" lengthAdjust="spacingAndGlyphs">Pipe port</text>
<line x1="772.3" y1="536.4" x2="916" y2="536.4" stroke="#231815" stroke-width="2.6" />
<line x1="762.6" y1="557.6" x2="916" y2="557.6" stroke="#231815" stroke-width="1.4" />
<line x1="773.5" y1="536.4" x2="773.5" y2="557.6" stroke="#231815" stroke-width="1.4" />
<rect x="781" y="541.9" width="16.3" height="10.1" rx="2.5" stroke="#231815" stroke-width="1.6" fill="none"/>
<path d="M916,539.6 L825,539.6 Q821.7,539.6 821.7,542.6 L821.7,552.3 Q821.7,555.3 825,555.3 L862,555.3 Q865.2,555.3 865.2,552.3 L865.2,542.6 Q865.2,539.6 862,539.6" stroke="#231815" stroke-width="1.6" fill="none" stroke-linejoin="round"/>
<line x1="787.7" y1="500.4" x2="787.7" y2="581" stroke="#231815" stroke-width="0.8" />
<line x1="793.2" y1="493.6" x2="793.2" y2="570" stroke="#231815" stroke-width="0.8" />
<line x1="830.6" y1="503.1" x2="830.6" y2="570.3" stroke="#231815" stroke-width="0.8" />
<line x1="840.1" y1="500.4" x2="840.1" y2="581" stroke="#231815" stroke-width="0.8" />
<line x1="793.2" y1="569" x2="830.6" y2="569" stroke="#231815" stroke-width="0.7" />
<polygon points="796.7,567.9 793.2,569 796.7,570.1" stroke="#231815" stroke-width="0.6" fill="#231815" stroke-linejoin="round" />
<polygon points="827.1,570.1 830.6,569 827.1,567.9" stroke="#231815" stroke-width="0.6" fill="#231815" stroke-linejoin="round" />
<line x1="787.7" y1="580" x2="840.1" y2="580" stroke="#231815" stroke-width="0.7" />
<polygon points="791.2,578.9 787.7,580 791.2,581.1" stroke="#231815" stroke-width="0.6" fill="#231815" stroke-linejoin="round" />
<polygon points="836.6,581.1 840.1,580 836.6,578.9" stroke="#231815" stroke-width="0.6" fill="#231815" stroke-linejoin="round" />
<text x="807.5" y="567" font-size="8.8" text-anchor="start" fill="#231815" font-weight="normal" textLength="14.2" lengthAdjust="spacingAndGlyphs">125</text>
<text x="808.8" y="577.2" font-size="8.8" text-anchor="start" fill="#231815" font-weight="normal" textLength="13.6" lengthAdjust="spacingAndGlyphs">199</text>
<line x1="738.8" y1="500.4" x2="787.7" y2="500.4" stroke="#231815" stroke-width="0.7" />
<line x1="738.8" y1="527.6" x2="925" y2="527.6" stroke="#231815" stroke-width="0.7" />
<line x1="753.5" y1="503.1" x2="793.2" y2="503.1" stroke="#231815" stroke-width="0.7" />
<line x1="753.5" y1="524.9" x2="787.7" y2="524.9" stroke="#231815" stroke-width="0.7" />
<line x1="739.9" y1="500.4" x2="739.9" y2="527.6" stroke="#231815" stroke-width="0.7" />
<polygon points="741,503.9 739.9,500.4 738.8,503.9" stroke="#231815" stroke-width="0.6" fill="#231815" stroke-linejoin="round" />
<polygon points="738.8,524.1 739.9,527.6 741,524.1" stroke="#231815" stroke-width="0.6" fill="#231815" stroke-linejoin="round" />
<line x1="755.1" y1="503.1" x2="755.1" y2="524.9" stroke="#231815" stroke-width="0.7" />
<polygon points="756.2,506.6 755.1,503.1 754,506.6" stroke="#231815" stroke-width="0.6" fill="#231815" stroke-linejoin="round" />
<polygon points="754,521.4 755.1,524.9 756.2,521.4" stroke="#231815" stroke-width="0.6" fill="#231815" stroke-linejoin="round" />
<line x1="755.1" y1="528.3" x2="755.1" y2="552" stroke="#231815" stroke-width="0.7" />
<polygon points="756.2,531.8 755.1,528.3 754,531.8" stroke="#231815" stroke-width="0.6" fill="#231815" stroke-linejoin="round" />
<line x1="762.6" y1="557.6" x2="773.5" y2="557.6" stroke="#231815" stroke-width="0.7" />
<line x1="764.6" y1="528.3" x2="764.6" y2="580.6" stroke="#231815" stroke-width="0.7" />
<polygon points="765.7,531.8 764.6,528.3 763.5,531.8" stroke="#231815" stroke-width="0.6" fill="#231815" stroke-linejoin="round" />
<polygon points="763.5,554.1 764.6,557.6 765.7,554.1" stroke="#231815" stroke-width="0.6" fill="#231815" stroke-linejoin="round" />
<text x="738.6" y="513.2" font-size="8.8" text-anchor="middle" fill="#231815" font-weight="normal" textLength="8.4" lengthAdjust="spacingAndGlyphs" transform="rotate(-90 738.6 513.2)">95</text>
<text x="754" y="513.7" font-size="8.8" text-anchor="middle" fill="#231815" font-weight="normal" textLength="9.6" lengthAdjust="spacingAndGlyphs" transform="rotate(-90 754 513.7)">75</text>
<text x="753.7" y="539.2" font-size="8.8" text-anchor="middle" fill="#231815" font-weight="normal" textLength="9.6" lengthAdjust="spacingAndGlyphs" transform="rotate(-90 753.7 539.2)">10</text>
<text x="763.2" y="567.75" font-size="8.8" text-anchor="middle" fill="#231815" font-weight="normal" textLength="13.5" lengthAdjust="spacingAndGlyphs" transform="rotate(-90 763.2 567.75)">100</text>
<polyline points="796.6,487.5 837.6,432 921,432" stroke="#231815" stroke-width="0.7" fill="none" stroke-linejoin="round" />
<text x="838.8" y="431.4" font-size="8.6" text-anchor="start" fill="#231815" font-weight="normal" textLength="20.1" lengthAdjust="spacingAndGlyphs">Ø34.5</text>
<text x="842" y="438.3" font-size="7.2" text-anchor="start" fill="#3a3340" font-weight="normal" textLength="72.7" lengthAdjust="spacingAndGlyphs">Power supply cable port</text>
<polyline points="815,493.5 847.3,451.2 929.8,451.2" stroke="#231815" stroke-width="0.7" fill="none" stroke-linejoin="round" />
<text x="848.2" y="449.6" font-size="8.6" text-anchor="start" fill="#231815" font-weight="normal" textLength="18.8" lengthAdjust="spacingAndGlyphs">Ø43.7</text>
<text x="850.7" y="457.2" font-size="7.2" text-anchor="start" fill="#3a3340" font-weight="normal" textLength="72.2" lengthAdjust="spacingAndGlyphs">Power supply cable port</text>
<polyline points="831.5,485 847,473.4 933,473.4" stroke="#231815" stroke-width="0.7" fill="none" stroke-linejoin="round" />
<text x="850" y="472.2" font-size="8.6" text-anchor="start" fill="#231815" font-weight="normal" textLength="19.6" lengthAdjust="spacingAndGlyphs">Ø22.2</text>
<text x="852" y="480.6" font-size="7.2" text-anchor="start" fill="#3a3340" font-weight="normal" textLength="71.5" lengthAdjust="spacingAndGlyphs">Transmission cable port</text>
<polyline points="835.3,492.9 848.8,499.1 934.2,499.1" stroke="#231815" stroke-width="0.7" fill="none" stroke-linejoin="round" />
<text x="852" y="498.3" font-size="8.6" text-anchor="start" fill="#231815" font-weight="normal" textLength="19.4" lengthAdjust="spacingAndGlyphs">Ø22.2</text>
<text x="854" y="505.2" font-size="7.2" text-anchor="start" fill="#3a3340" font-weight="normal" textLength="71.5" lengthAdjust="spacingAndGlyphs">Transmission cable port</text>
<rect x="718.3" y="611.2" width="222.8" height="179.6" rx="0" stroke="#555" stroke-width="1.3" fill="none"/>
<rect x="708.4" y="601" width="19.7" height="20.2" rx="2.5" fill="#231815"/>
<text x="718.25" y="615.6" font-size="11.5" text-anchor="middle" fill="#fff" font-weight="bold" textLength="8" lengthAdjust="spacingAndGlyphs">B</text>
<text x="734.6" y="624.2" font-size="11.6" text-anchor="start" fill="#231815" font-weight="normal" textLength="122" lengthAdjust="spacingAndGlyphs">Left side knockout position</text>
<line x1="733.7" y1="639.4" x2="733.7" y2="756.1" stroke="#231815" stroke-width="1.2" />
<line x1="787.6" y1="639.4" x2="787.6" y2="754" stroke="#231815" stroke-width="2" />
<line x1="832" y1="639.4" x2="832" y2="678.4" stroke="#231815" stroke-width="2.2" />
<line x1="832" y1="678.4" x2="832" y2="780.6" stroke="#231815" stroke-width="1" />
<line x1="841.2" y1="639.4" x2="841.2" y2="756.8" stroke="#231815" stroke-width="1.1" />
<line x1="787.6" y1="678.8" x2="841.2" y2="678.8" stroke="#231815" stroke-width="2.4" />
<path d="M799.5,639.4 L799.5,658 Q799.5,660.5 802,660.5 L812,660.5 Q814.5,660.5 814.5,658 L814.5,639.4" stroke="#231815" stroke-width="1.1" fill="none" stroke-linejoin="round"/>
<line x1="806.9" y1="639.4" x2="806.9" y2="650" stroke="#888" stroke-width="1.4" />
<polyline points="800.5,659.5 806.9,650 813.5,659.5" stroke="#231815" stroke-width="0.6" fill="none" stroke-linejoin="round" />
<line x1="806.9" y1="650" x2="804" y2="660" stroke="#231815" stroke-width="0.5" />
<line x1="806.9" y1="650" x2="810" y2="660" stroke="#231815" stroke-width="0.5" />
<circle cx="810.4" cy="696.3" r="8.4" stroke="#231815" stroke-width="0.9" fill="none"/>
<circle cx="810.4" cy="696.3" r="6.1" stroke="#231815" stroke-width="1" fill="none"/>
<line x1="806.01" y1="691.91" x2="814.79" y2="700.69" stroke="#231815" stroke-width="0.8" />
<line x1="806.01" y1="700.69" x2="814.79" y2="691.91" stroke="#231815" stroke-width="0.8" />
<circle cx="810.8" cy="718.1" r="7.9" stroke="#231815" stroke-width="1.2" fill="none"/>
<line x1="804" y1="722.5" x2="852" y2="698.9" stroke="#231815" stroke-width="0.7" />
<circle cx="802.3" cy="735.8" r="4.1" stroke="#231815" stroke-width="0.9" fill="none"/>
<circle cx="820" cy="735.8" r="4.1" stroke="#231815" stroke-width="0.9" fill="none"/>
<polyline points="741,683.2 781.1,683.2 816,700" stroke="#231815" stroke-width="0.7" fill="none" stroke-linejoin="round" />
<polyline points="851.4,676.4 806,698" stroke="#231815" stroke-width="0.7" fill="none" stroke-linejoin="round" />
<polyline points="754,725 782.5,725.5 810.4,739.8 848.1,723.5 892.6,723.5" stroke="#231815" stroke-width="0.7" fill="none" stroke-linejoin="round" />
<line x1="927.2" y1="676.4" x2="851.4" y2="676.4" stroke="#231815" stroke-width="0.7" />
<line x1="847.5" y1="698.9" x2="924.6" y2="698.9" stroke="#231815" stroke-width="0.7" />
<text x="749.2" y="681.6" font-size="8.6" text-anchor="start" fill="#231815" font-weight="normal" textLength="13.6" lengthAdjust="spacingAndGlyphs">Ø50</text>
<text x="737.6" y="690" font-size="7.2" text-anchor="start" fill="#3a3340" font-weight="normal" textLength="40" lengthAdjust="spacingAndGlyphs">Power supply</text>
<text x="737.6" y="698" font-size="7.2" text-anchor="start" fill="#3a3340" font-weight="normal" textLength="30.5" lengthAdjust="spacingAndGlyphs">cable port</text>
<text x="754.7" y="723.3" font-size="8.6" text-anchor="start" fill="#231815" font-weight="normal" textLength="19" lengthAdjust="spacingAndGlyphs">Ø22.2</text>
<text x="737.7" y="732.8" font-size="7.2" text-anchor="start" fill="#3a3340" font-weight="normal" textLength="38" lengthAdjust="spacingAndGlyphs">Transmission</text>
<text x="737.7" y="741" font-size="7.2" text-anchor="start" fill="#3a3340" font-weight="normal" textLength="30.5" lengthAdjust="spacingAndGlyphs">cable port</text>
<text x="850.7" y="675.1" font-size="8.6" text-anchor="start" fill="#231815" font-weight="normal" textLength="19" lengthAdjust="spacingAndGlyphs">Ø34.5</text>
<text x="849.8" y="682.6" font-size="7.2" text-anchor="start" fill="#3a3340" font-weight="normal" textLength="72.8" lengthAdjust="spacingAndGlyphs">Power supply cable port</text>
<text x="849" y="697.3" font-size="8.6" text-anchor="start" fill="#231815" font-weight="normal" textLength="19.1" lengthAdjust="spacingAndGlyphs">Ø43.7</text>
<text x="849.8" y="704.8" font-size="7.2" text-anchor="start" fill="#3a3340" font-weight="normal" textLength="72.8" lengthAdjust="spacingAndGlyphs">Power supply cable port</text>
<text x="848.5" y="722.2" font-size="8.6" text-anchor="start" fill="#231815" font-weight="normal" textLength="19.2" lengthAdjust="spacingAndGlyphs">Ø22.2</text>
<text x="848.1" y="731.2" font-size="7.2" text-anchor="start" fill="#3a3340" font-weight="normal" textLength="38.6" lengthAdjust="spacingAndGlyphs">Transmission</text>
<text x="848.1" y="739.2" font-size="7.2" text-anchor="start" fill="#3a3340" font-weight="normal" textLength="30.5" lengthAdjust="spacingAndGlyphs">cable port</text>
<line x1="733.7" y1="754.8" x2="841" y2="754.8" stroke="#231815" stroke-width="1.2" />
<line x1="733.7" y1="756.8" x2="841" y2="756.8" stroke="#231815" stroke-width="0.6" />
<line x1="733" y1="759.5" x2="812.5" y2="759.5" stroke="#231815" stroke-width="1.3" />
<polyline points="812.5,759.5 824.7,780.6 842.4,780.6" stroke="#231815" stroke-width="1.3" fill="none" stroke-linejoin="round" />
<circle cx="742.4" cy="750.4" r="0.9" stroke="none" stroke-width="0" fill="#231815"/>
<circle cx="782.6" cy="750.4" r="0.9" stroke="none" stroke-width="0" fill="#231815"/>
<rect x="718.3" y="814.7" width="222.8" height="179.5" rx="0" stroke="#555" stroke-width="1.3" fill="none"/>
<rect x="708.4" y="804.5" width="19.7" height="20.2" rx="2.5" fill="#231815"/>
<text x="718.25" y="819.1" font-size="11.5" text-anchor="middle" fill="#fff" font-weight="bold" textLength="8" lengthAdjust="spacingAndGlyphs">C</text>
<text x="736" y="826.2" font-size="11.6" text-anchor="start" fill="#231815" font-weight="normal" textLength="139.4" lengthAdjust="spacingAndGlyphs">Bottom side knockout position</text>
<text x="814.2" y="862.5" font-size="7.6" text-anchor="start" fill="#3a3340" font-weight="normal" textLength="26.3" lengthAdjust="spacingAndGlyphs">Top view</text>
<text x="861" y="857.6" font-size="7.6" text-anchor="start" fill="#3a3340" font-weight="normal" textLength="28.6" lengthAdjust="spacingAndGlyphs">Pipe port</text>
<polyline points="890.3,860.3 859.6,860.3 842.7,894.7" stroke="#231815" stroke-width="0.7" fill="none" stroke-linejoin="round" />
<circle cx="842.7" cy="894.7" r="0.8" stroke="none" stroke-width="0" fill="#231815"/>
<line x1="791.65" y1="869" x2="791.65" y2="881.5" stroke="#9a9a9a" stroke-width="3.3" />
<line x1="789.8" y1="869" x2="789.8" y2="881.5" stroke="#231815" stroke-width="0.7" />
<line x1="793.5" y1="869" x2="793.5" y2="881.5" stroke="#231815" stroke-width="0.7" />
<line x1="804.2" y1="869" x2="804.2" y2="881.5" stroke="#9a9a9a" stroke-width="2.4" />
<line x1="802.8" y1="869" x2="802.8" y2="881.5" stroke="#231815" stroke-width="0.7" />
<line x1="805.6" y1="869" x2="805.6" y2="881.5" stroke="#231815" stroke-width="0.7" />
<line x1="807.4" y1="869" x2="807.4" y2="881.5" stroke="#9a9a9a" stroke-width="2.4" />
<line x1="806" y1="869" x2="806" y2="881.5" stroke="#231815" stroke-width="0.7" />
<line x1="808.8" y1="869" x2="808.8" y2="881.5" stroke="#231815" stroke-width="0.7" />
<line x1="835.15" y1="869" x2="835.15" y2="881.5" stroke="#9a9a9a" stroke-width="3.3" />
<line x1="833.3" y1="869" x2="833.3" y2="881.5" stroke="#231815" stroke-width="0.7" />
<line x1="837" y1="869" x2="837" y2="881.5" stroke="#231815" stroke-width="0.7" />
<line x1="843.2" y1="869" x2="843.2" y2="881.5" stroke="#9a9a9a" stroke-width="3.2" />
<line x1="841.4" y1="869" x2="841.4" y2="881.5" stroke="#231815" stroke-width="0.7" />
<line x1="845" y1="869" x2="845" y2="881.5" stroke="#231815" stroke-width="0.7" />
<line x1="847.6" y1="869" x2="847.6" y2="881.5" stroke="#9a9a9a" stroke-width="2.2" />
<line x1="846.3" y1="869" x2="846.3" y2="881.5" stroke="#231815" stroke-width="0.7" />
<line x1="848.9" y1="869" x2="848.9" y2="881.5" stroke="#231815" stroke-width="0.7" />
<path d="M797.6,887.3 Q797.6,884.3 800.6,884.3 L860,884.3 Q864.5,884.3 864.5,888.5 L864.5,904.5 L861,910 Q858.5,913.5 855,914.5 Q852.3,915.5 852.3,918.5 L852.3,928 Q852.3,931.5 848,931.5 Q843.8,931.5 843.8,928 L843.8,923 Q843.8,920.7 841.5,920.7 L817,920.7 Q814.7,920.7 814.7,923 L814.7,928 Q814.7,931.5 811,931.5 Q807.3,931.5 807.3,928 L807.3,925.5 Q806.5,923.6 803,923.2 Q797.6,922 797.6,917.5 Z" stroke="#8f8f8f" stroke-width="3.6" fill="none" stroke-linejoin="round"/>
<path d="M797.6,887.3 Q797.6,884.3 800.6,884.3 L860,884.3 Q864.5,884.3 864.5,888.5 L864.5,904.5 L861,910 Q858.5,913.5 855,914.5 Q852.3,915.5 852.3,918.5 L852.3,928 Q852.3,931.5 848,931.5 Q843.8,931.5 843.8,928 L843.8,923 Q843.8,920.7 841.5,920.7 L817,920.7 Q814.7,920.7 814.7,923 L814.7,928 Q814.7,931.5 811,931.5 Q807.3,931.5 807.3,928 L807.3,925.5 Q806.5,923.6 803,923.2 Q797.6,922 797.6,917.5 Z" stroke="#ffffff" stroke-width="1.6" fill="none" stroke-linejoin="round"/>
<path d="M797.6,887.3 Q797.6,884.3 800.6,884.3 L860,884.3 Q864.5,884.3 864.5,888.5 L864.5,904.5 L861,910 Q858.5,913.5 855,914.5 Q852.3,915.5 852.3,918.5 L852.3,928 Q852.3,931.5 848,931.5 Q843.8,931.5 843.8,928 L843.8,923 Q843.8,920.7 841.5,920.7 L817,920.7 Q814.7,920.7 814.7,923 L814.7,928 Q814.7,931.5 811,931.5 Q807.3,931.5 807.3,928 L807.3,925.5 Q806.5,923.6 803,923.2 Q797.6,922 797.6,917.5 Z" stroke="#bbbbbb" stroke-width="0.5" fill="none" stroke-linejoin="round"/>
<path d="M797.6,887.3 Q797.6,884.3 800.6,884.3 L860,884.3 Q864.5,884.3 864.5,888.5 L864.5,904.5 L861,910 Q858.5,913.5 855,914.5 Q852.3,915.5 852.3,918.5 L852.3,928 Q852.3,931.5 848,931.5 Q843.8,931.5 843.8,928 L843.8,923 Q843.8,920.7 841.5,920.7 L817,920.7 Q814.7,920.7 814.7,923 L814.7,928 Q814.7,931.5 811,931.5 Q807.3,931.5 807.3,928 L807.3,925.5 Q806.5,923.6 803,923.2 Q797.6,922 797.6,917.5 Z" stroke="#231815" stroke-width="1" fill="none" stroke-linejoin="round"/>
<rect x="801.3" y="887.3" width="56.9" height="24.5" rx="3.5" stroke="#231815" stroke-width="1.5" fill="none"/>
<line x1="790.4" y1="869" x2="790.4" y2="936.3" stroke="#9a9a9a" stroke-width="2.4" />
<line x1="789.1" y1="869" x2="789.1" y2="936.3" stroke="#231815" stroke-width="0.7" />
<polyline points="791.7,895 792.6,898 792.6,911 791.7,913" stroke="#231815" stroke-width="1" fill="none" stroke-linejoin="round" />
<polyline points="789.5,925.9 796.9,934.4 862.3,934.4" stroke="#231815" stroke-width="1" fill="none" stroke-linejoin="round" />
<line x1="796.9" y1="936" x2="885.3" y2="936" stroke="#231815" stroke-width="1.2" />
<polyline points="862.3,934.4 865.3,930.4 885.3,930.4" stroke="#231815" stroke-width="1" fill="none" stroke-linejoin="round" />
<line x1="865.3" y1="932.4" x2="885.3" y2="932.4" stroke="#9a9a9a" stroke-width="2.6" />
<path d="M857.8,869.5 C864,871 868,875.5 872,878.5 C877,882 876,888 885.3,893.2" stroke="#9a9a9a" stroke-width="3" fill="none" stroke-linejoin="round"/>
<path d="M857.8,869.5 C864,871 868,875.5 872,878.5 C877,882 876,888 885.3,893.2" stroke="#231815" stroke-width="0.8" fill="none" stroke-linejoin="round"/>
<line x1="865.3" y1="906.6" x2="885.3" y2="906.6" stroke="#9a9a9a" stroke-width="4.6" />
<line x1="865.3" y1="904.2" x2="885.3" y2="904.2" stroke="#231815" stroke-width="0.8" />
<line x1="865.3" y1="909" x2="885.3" y2="909" stroke="#231815" stroke-width="0.8" />
<circle cx="879.4" cy="919.6" r="6.7" stroke="#8f8f8f" stroke-width="1.8" fill="none"/>
<circle cx="879.4" cy="919.6" r="7.6" stroke="#231815" stroke-width="0.8" fill="none"/>
<circle cx="879.4" cy="919.6" r="5.7" stroke="#231815" stroke-width="0.6" fill="none"/>
<circle cx="879.4" cy="919.6" r="1.1" stroke="#231815" stroke-width="0.6" fill="none"/>
<circle cx="861.5" cy="920.7" r="0.7" stroke="none" stroke-width="0" fill="#231815"/>
<circle cx="831.5" cy="926.5" r="0.6" stroke="none" stroke-width="0" fill="#231815"/>
<line x1="774" y1="887.3" x2="795" y2="887.3" stroke="#231815" stroke-width="0.7" />
<line x1="774" y1="910.8" x2="791" y2="910.8" stroke="#231815" stroke-width="0.7" />
<line x1="774" y1="935.7" x2="796" y2="935.7" stroke="#231815" stroke-width="0.7" />
<line x1="775.4" y1="887.3" x2="775.4" y2="935.7" stroke="#231815" stroke-width="0.7" />
<polygon points="776.5,890.8 775.4,887.3 774.3,890.8" stroke="#231815" stroke-width="0.6" fill="#231815" stroke-linejoin="round" />
<polygon points="774.3,907.3 775.4,910.8 776.5,907.3" stroke="#231815" stroke-width="0.6" fill="#231815" stroke-linejoin="round" />
<polygon points="774.3,932.2 775.4,935.7 776.5,932.2" stroke="#231815" stroke-width="0.6" fill="#231815" stroke-linejoin="round" />
<text x="773.6" y="898.2" font-size="8.8" text-anchor="middle" fill="#231815" font-weight="normal" textLength="10.4" lengthAdjust="spacingAndGlyphs" transform="rotate(-90 773.6 898.2)">80</text>
<text x="773.6" y="922.5" font-size="8.8" text-anchor="middle" fill="#231815" font-weight="normal" textLength="10.2" lengthAdjust="spacingAndGlyphs" transform="rotate(-90 773.6 922.5)">82</text>
<line x1="789.3" y1="910.8" x2="789.3" y2="961.3" stroke="#231815" stroke-width="0.7" />
<line x1="801.3" y1="927.6" x2="801.3" y2="961.3" stroke="#231815" stroke-width="0.7" />
<line x1="858.4" y1="911.5" x2="858.4" y2="961.3" stroke="#231815" stroke-width="0.7" />
<line x1="776.8" y1="959.1" x2="789.3" y2="959.1" stroke="#231815" stroke-width="0.7" />
<polygon points="785.8,960.2 789.3,959.1 785.8,958" stroke="#231815" stroke-width="0.6" fill="#231815" stroke-linejoin="round" />
<line x1="801.3" y1="959.1" x2="858.4" y2="959.1" stroke="#231815" stroke-width="0.7" />
<polygon points="804.8,958 801.3,959.1 804.8,960.2" stroke="#231815" stroke-width="0.6" fill="#231815" stroke-linejoin="round" />
<polygon points="854.9,960.2 858.4,959.1 854.9,958" stroke="#231815" stroke-width="0.6" fill="#231815" stroke-linejoin="round" />
<text x="776.8" y="957.6" font-size="8.8" text-anchor="start" fill="#231815" font-weight="normal" textLength="10.3" lengthAdjust="spacingAndGlyphs">42</text>
<text x="825.2" y="957" font-size="8.8" text-anchor="start" fill="#231815" font-weight="normal" textLength="14.6" lengthAdjust="spacingAndGlyphs">197</text>
</svg></body></html>
